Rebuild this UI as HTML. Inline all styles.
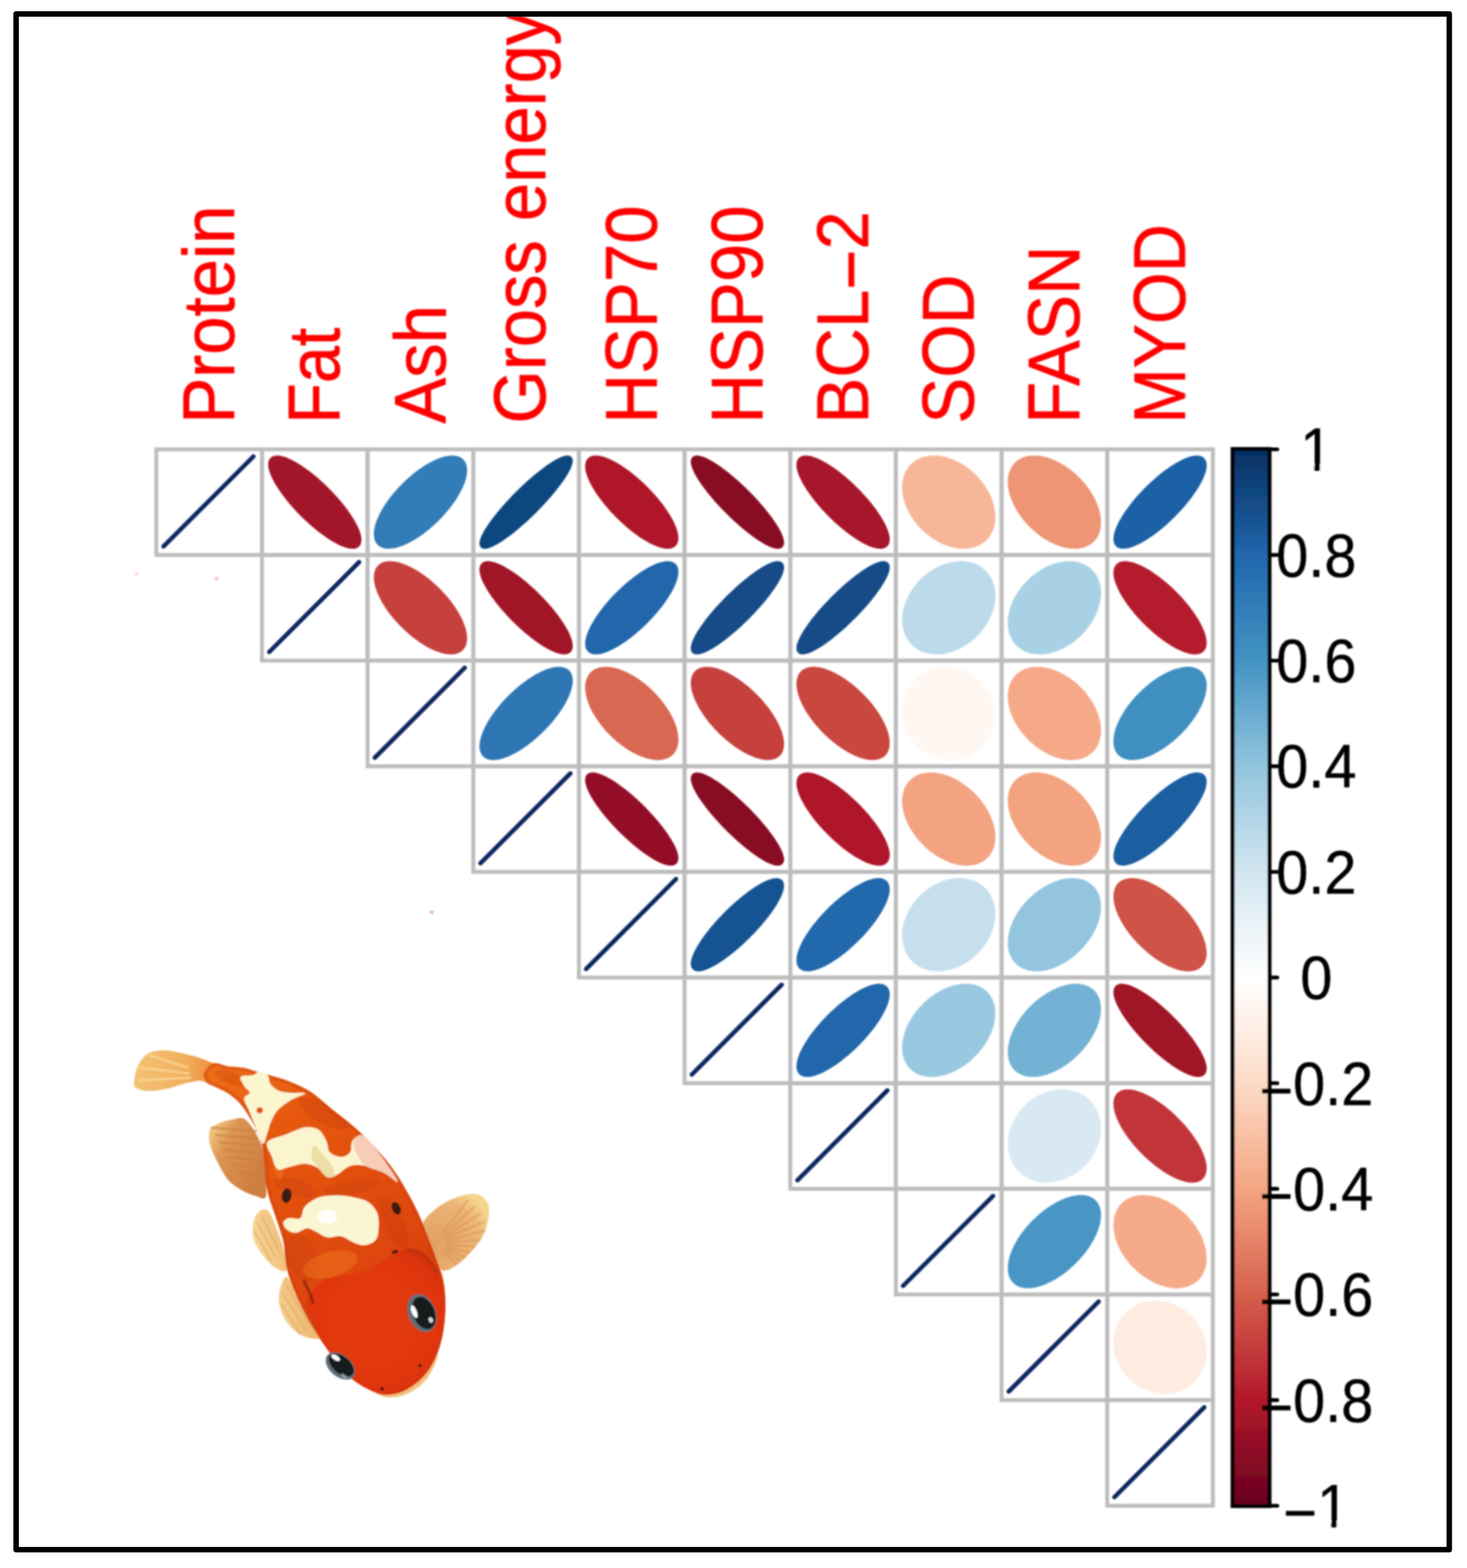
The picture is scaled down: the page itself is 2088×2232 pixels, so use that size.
<!DOCTYPE html>
<html lang="en"><head><meta charset="utf-8"><title>Correlation plot</title>
<style>html,body{margin:0;padding:0;background:#fff;}body{width:2088px;height:2232px;overflow:hidden;}svg{display:block;}text{font-family:"Liberation Sans",sans-serif;}</style>
</head><body>
<svg width="2088" height="2232" viewBox="0 0 2088 2232" role="img" aria-label="Correlation matrix plot with koi fish">
<defs>
<linearGradient id="cb" x1="0" y1="0" x2="0" y2="1"><stop offset="0" stop-color="#053061"/><stop offset="0.1" stop-color="#2166AC"/><stop offset="0.2" stop-color="#4393C3"/><stop offset="0.3" stop-color="#92C5DE"/><stop offset="0.4" stop-color="#D1E5F0"/><stop offset="0.5" stop-color="#FFFFFF"/><stop offset="0.6" stop-color="#FDDBC7"/><stop offset="0.7" stop-color="#F4A582"/><stop offset="0.8" stop-color="#D6604D"/><stop offset="0.9" stop-color="#B2182B"/><stop offset="1" stop-color="#67001F"/></linearGradient>
<clipPath id="inner"><rect x="27" y="23.8" width="2032" height="2178.3"/></clipPath>
<filter id="soft" x="-2%" y="-2%" width="104%" height="104%"><feGaussianBlur stdDeviation="1.1"/></filter>
<linearGradient id="gTail" gradientUnits="userSpaceOnUse" x1="195" y1="1530" x2="325" y2="1530"><stop offset="0" stop-color="#F4C272"/><stop offset="0.55" stop-color="#F0AE5C"/><stop offset="0.85" stop-color="#EE8A38"/><stop offset="1" stop-color="#EB6A1C"/></linearGradient>
<linearGradient id="gFinUL" gradientUnits="userSpaceOnUse" x1="298" y1="1620" x2="375" y2="1660"><stop offset="0" stop-color="#EFC07A"/><stop offset="0.3" stop-color="#DC9452"/><stop offset="1" stop-color="#CF7E40"/></linearGradient>
<radialGradient id="gFinR" gradientUnits="userSpaceOnUse" cx="618" cy="1770" r="85"><stop offset="0" stop-color="#E0A060"/><stop offset="0.75" stop-color="#EDB577"/><stop offset="1" stop-color="#F5D48C"/></radialGradient>
<linearGradient id="gFinL" gradientUnits="userSpaceOnUse" x1="355" y1="1800" x2="440" y2="1780"><stop offset="0" stop-color="#F8DC9C"/><stop offset="1" stop-color="#EDAE66"/></linearGradient>
<linearGradient id="gBody" gradientUnits="userSpaceOnUse" x1="300" y1="1530" x2="560" y2="1900"><stop offset="0" stop-color="#EE6E18"/><stop offset="0.25" stop-color="#E6580F"/><stop offset="0.7" stop-color="#DF490C"/><stop offset="1" stop-color="#DC3A0A"/></linearGradient>
<radialGradient id="gHead" gradientUnits="userSpaceOnUse" cx="530" cy="1880" r="130"><stop offset="0" stop-color="#E43A0A"/><stop offset="0.7" stop-color="#E0360A"/><stop offset="1" stop-color="#D2300A"/></radialGradient>
<clipPath id="cBody"><path d="M290.3 1527.4C291.9 1522.8 298.4 1515.2 303.9 1513.5C309.4 1511.9 316.0 1516.3 323.2 1517.4C330.5 1518.5 341.2 1518.9 347.4 1520.0C353.6 1521.1 354.4 1522.2 360.3 1523.9C366.2 1525.6 374.3 1527.7 382.9 1530.3C391.5 1532.9 402.0 1535.3 411.9 1539.4C421.9 1543.4 432.5 1547.9 442.6 1554.5C452.7 1561.1 462.2 1570.6 472.6 1579.0C483.0 1587.4 494.1 1595.2 504.8 1604.8C515.6 1614.5 527.4 1626.3 537.1 1637.1C546.8 1647.8 555.4 1658.6 562.9 1669.4C570.4 1680.1 576.3 1690.9 582.3 1701.6C588.2 1712.4 593.5 1723.1 598.4 1733.9C603.2 1744.6 607.5 1756.5 611.3 1766.1C615.1 1775.8 617.7 1782.8 621.0 1791.9C624.2 1801.1 628.5 1810.8 630.6 1821.0C632.8 1831.2 633.6 1842.5 633.9 1853.2C634.1 1864.0 633.3 1875.8 632.3 1885.5C631.2 1895.2 629.6 1903.2 627.4 1911.3C625.3 1919.4 622.6 1926.9 619.4 1933.9C616.1 1940.9 612.6 1947.3 608.1 1953.2C603.5 1959.1 598.4 1964.5 591.9 1969.4C585.5 1974.2 576.9 1979.6 569.4 1982.3C561.8 1984.9 553.8 1986.0 546.8 1985.5C539.8 1984.9 534.4 1982.3 527.4 1979.0C520.4 1975.8 511.8 1971.5 504.8 1966.1C497.8 1960.8 491.9 1954.3 485.5 1946.8C479.0 1939.2 472.6 1930.1 466.1 1921.0C459.7 1911.8 452.7 1901.6 446.8 1891.9C440.9 1882.3 435.5 1872.6 430.6 1862.9C425.8 1853.2 421.5 1843.5 417.7 1833.9C414.0 1824.2 410.4 1815.5 408.1 1804.8C405.8 1794.2 405.4 1778.8 403.9 1770.0C402.4 1761.2 401.2 1759.2 399.0 1752.3C396.9 1745.3 393.7 1736.1 391.0 1728.1C388.3 1720.0 385.1 1711.9 382.9 1703.9C380.8 1695.8 379.1 1687.7 378.1 1679.7C377.0 1671.6 377.3 1663.5 376.5 1655.5C375.6 1647.4 374.6 1638.0 373.2 1631.3C371.9 1624.6 370.5 1620.5 368.4 1615.2C366.2 1609.8 363.3 1604.4 360.3 1599.0C357.4 1593.7 354.1 1588.0 350.6 1582.9C347.2 1577.8 343.9 1573.0 339.4 1568.4C334.8 1563.8 328.6 1559.0 323.2 1555.5C317.8 1552.0 311.9 1549.8 307.1 1547.4C302.3 1545.0 297.0 1544.3 294.2 1541.0C291.4 1537.6 288.7 1532.0 290.3 1527.4Z"/></clipPath>
<clipPath id="cFinR"><path d="M601.6 1741.9C603.8 1733.9 615.6 1724.2 624.2 1717.7C632.8 1711.3 644.1 1706.2 653.2 1703.2C662.4 1700.3 672.2 1698.4 679.0 1700.0C685.9 1701.6 691.8 1707.3 694.5 1712.9C697.2 1718.5 696.1 1726.6 695.2 1733.9C694.2 1741.1 691.9 1749.5 688.7 1756.5C685.5 1763.4 681.7 1768.8 675.8 1775.8C669.9 1782.8 660.8 1792.9 653.2 1798.4C645.7 1803.9 636.3 1809.8 630.6 1808.7C625.0 1807.6 622.6 1799.0 619.4 1791.9C616.1 1784.8 614.2 1774.5 611.3 1766.1C608.3 1757.8 599.5 1750.0 601.6 1741.9Z"/></clipPath>
</defs>
<rect width="2088" height="2232" fill="#fff"/>
<g filter="url(#soft)">
<g clip-path="url(#inner)" fill="#FF0000" stroke="#FF0000" stroke-width="0.9" stroke-linejoin="round" font-size="100">
<text transform="translate(332.7 603.0) rotate(-90) scale(0.980 1.04)">Protein</text>
<text transform="translate(483.1 603.0) rotate(-90) scale(0.944 1.04)">Fat</text>
<text transform="translate(633.5 603.0) rotate(-90) scale(0.980 1.04)">Ash</text>
<text transform="translate(775.6 603.0) rotate(-90) scale(0.979 1.04)">Gross energy</text>
<text transform="translate(934.2 603.0) rotate(-90) scale(0.980 1.04)">HSP70</text>
<text transform="translate(1084.6 603.0) rotate(-90) scale(0.980 1.04)">HSP90</text>
<text transform="translate(1235.0 603.0) rotate(-90) scale(0.980 1.04)">BCL<tspan dy="10.5">−</tspan><tspan dy="-10.5">2</tspan></text>
<text transform="translate(1385.3 603.0) rotate(-90) scale(0.980 1.04)">SOD</text>
<text transform="translate(1535.7 603.0) rotate(-90) scale(0.970 1.04)">FASN</text>
<text transform="translate(1686.1 603.0) rotate(-90) scale(0.946 1.04)">MYOD</text>
</g>
<g fill="none" stroke="#BDBDBD" stroke-width="5.6">
<rect x="222.50" y="639.60" width="150.38" height="150.38"/>
<rect x="372.88" y="639.60" width="150.38" height="150.38"/>
<rect x="523.26" y="639.60" width="150.38" height="150.38"/>
<rect x="673.64" y="639.60" width="150.38" height="150.38"/>
<rect x="824.02" y="639.60" width="150.38" height="150.38"/>
<rect x="974.40" y="639.60" width="150.38" height="150.38"/>
<rect x="1124.78" y="639.60" width="150.38" height="150.38"/>
<rect x="1275.16" y="639.60" width="150.38" height="150.38"/>
<rect x="1425.54" y="639.60" width="150.38" height="150.38"/>
<rect x="1575.92" y="639.60" width="150.38" height="150.38"/>
<rect x="372.88" y="789.98" width="150.38" height="150.38"/>
<rect x="523.26" y="789.98" width="150.38" height="150.38"/>
<rect x="673.64" y="789.98" width="150.38" height="150.38"/>
<rect x="824.02" y="789.98" width="150.38" height="150.38"/>
<rect x="974.40" y="789.98" width="150.38" height="150.38"/>
<rect x="1124.78" y="789.98" width="150.38" height="150.38"/>
<rect x="1275.16" y="789.98" width="150.38" height="150.38"/>
<rect x="1425.54" y="789.98" width="150.38" height="150.38"/>
<rect x="1575.92" y="789.98" width="150.38" height="150.38"/>
<rect x="523.26" y="940.36" width="150.38" height="150.38"/>
<rect x="673.64" y="940.36" width="150.38" height="150.38"/>
<rect x="824.02" y="940.36" width="150.38" height="150.38"/>
<rect x="974.40" y="940.36" width="150.38" height="150.38"/>
<rect x="1124.78" y="940.36" width="150.38" height="150.38"/>
<rect x="1275.16" y="940.36" width="150.38" height="150.38"/>
<rect x="1425.54" y="940.36" width="150.38" height="150.38"/>
<rect x="1575.92" y="940.36" width="150.38" height="150.38"/>
<rect x="673.64" y="1090.74" width="150.38" height="150.38"/>
<rect x="824.02" y="1090.74" width="150.38" height="150.38"/>
<rect x="974.40" y="1090.74" width="150.38" height="150.38"/>
<rect x="1124.78" y="1090.74" width="150.38" height="150.38"/>
<rect x="1275.16" y="1090.74" width="150.38" height="150.38"/>
<rect x="1425.54" y="1090.74" width="150.38" height="150.38"/>
<rect x="1575.92" y="1090.74" width="150.38" height="150.38"/>
<rect x="824.02" y="1241.12" width="150.38" height="150.38"/>
<rect x="974.40" y="1241.12" width="150.38" height="150.38"/>
<rect x="1124.78" y="1241.12" width="150.38" height="150.38"/>
<rect x="1275.16" y="1241.12" width="150.38" height="150.38"/>
<rect x="1425.54" y="1241.12" width="150.38" height="150.38"/>
<rect x="1575.92" y="1241.12" width="150.38" height="150.38"/>
<rect x="974.40" y="1391.50" width="150.38" height="150.38"/>
<rect x="1124.78" y="1391.50" width="150.38" height="150.38"/>
<rect x="1275.16" y="1391.50" width="150.38" height="150.38"/>
<rect x="1425.54" y="1391.50" width="150.38" height="150.38"/>
<rect x="1575.92" y="1391.50" width="150.38" height="150.38"/>
<rect x="1124.78" y="1541.88" width="150.38" height="150.38"/>
<rect x="1275.16" y="1541.88" width="150.38" height="150.38"/>
<rect x="1425.54" y="1541.88" width="150.38" height="150.38"/>
<rect x="1575.92" y="1541.88" width="150.38" height="150.38"/>
<rect x="1275.16" y="1692.26" width="150.38" height="150.38"/>
<rect x="1425.54" y="1692.26" width="150.38" height="150.38"/>
<rect x="1575.92" y="1692.26" width="150.38" height="150.38"/>
<rect x="1425.54" y="1842.64" width="150.38" height="150.38"/>
<rect x="1575.92" y="1842.64" width="150.38" height="150.38"/>
<rect x="1575.92" y="1993.02" width="150.38" height="150.38"/>
</g>
<g stroke-width="5.0" stroke-linejoin="round" stroke-linecap="round">
<path d="M232.8 777.7L360.6 649.9" stroke="#0B2560" stroke-width="6.2" fill="none"/>
<path d="M466.1 696.7L460.7 691.4L455.2 686.3L449.7 681.5L444.1 676.8L438.5 672.5L433.1 668.5L427.7 664.8L422.5 661.5L417.5 658.7L412.7 656.2L408.2 654.2L404.0 652.7L400.2 651.6L396.6 651.0L393.5 650.9L390.8 651.3L388.6 652.1L386.8 653.5L385.4 655.3L384.6 657.6L384.2 660.3L384.3 663.4L384.9 666.9L385.9 670.7L387.5 674.9L389.5 679.4L391.9 684.2L394.8 689.2L398.1 694.4L401.8 699.8L405.8 705.3L410.1 710.8L414.7 716.4L419.6 721.9L424.7 727.5L430.0 732.9L435.4 738.1L440.9 743.2L446.5 748.1L452.0 752.7L457.6 757.1L463.1 761.1L468.4 764.8L473.6 768.0L478.6 770.9L483.4 773.4L487.9 775.4L492.1 776.9L496.0 778.0L499.5 778.6L502.6 778.7L505.3 778.3L507.6 777.4L509.4 776.1L510.7 774.3L511.6 772.0L512.0 769.3L511.9 766.2L511.3 762.7L510.2 758.8L508.7 754.6L506.6 750.1L504.2 745.4L501.3 740.3L498.0 735.1L494.4 729.8L490.4 724.3L486.0 718.8L481.4 713.2L476.5 707.6L471.4 702.1Z" fill="#A31329" stroke="#A31329"/>
<path d="M657.5 655.7L655.2 653.8L652.4 652.4L649.2 651.4L645.7 650.9L641.7 650.9L637.5 651.4L632.9 652.4L628.1 653.9L623.0 655.8L617.8 658.2L612.4 661.0L606.9 664.2L601.4 667.8L595.8 671.7L590.2 676.0L584.7 680.6L579.4 685.4L574.1 690.5L569.1 695.7L564.2 701.1L559.6 706.6L555.4 712.1L551.4 717.7L547.8 723.3L544.6 728.8L541.8 734.1L539.5 739.4L537.5 744.4L536.1 749.2L535.1 753.8L534.6 758.1L534.6 762.0L535.1 765.6L536.0 768.8L537.5 771.5L539.4 773.9L541.7 775.8L544.5 777.2L547.7 778.2L551.2 778.6L555.2 778.6L559.4 778.1L564.0 777.2L568.8 775.7L573.9 773.8L579.1 771.4L584.5 768.6L590.0 765.4L595.5 761.8L601.1 757.9L606.7 753.6L612.2 749.0L617.5 744.2L622.8 739.1L627.8 733.9L632.7 728.5L637.3 723.0L641.5 717.4L645.5 711.9L649.1 706.3L652.3 700.8L655.1 695.4L657.4 690.2L659.4 685.2L660.8 680.3L661.8 675.8L662.3 671.5L662.3 667.6L661.8 664.0L660.9 660.8L659.4 658.0Z" fill="#317BB7" stroke="#317BB7"/>
<path d="M811.5 652.2L810.1 651.3L808.3 650.9L806.0 651.0L803.3 651.6L800.2 652.6L796.7 654.2L792.8 656.2L788.6 658.6L784.1 661.5L779.3 664.7L774.3 668.4L769.1 672.4L763.7 676.7L758.2 681.4L752.7 686.2L747.1 691.3L741.6 696.6L736.0 702.0L730.6 707.5L725.4 713.1L720.3 718.7L715.4 724.2L710.8 729.7L706.5 735.0L702.4 740.2L698.8 745.2L695.5 750.0L692.6 754.5L690.2 758.8L688.2 762.6L686.7 766.1L685.6 769.3L685.0 772.0L684.9 774.2L685.3 776.1L686.2 777.4L687.6 778.3L689.4 778.7L691.7 778.6L694.4 778.0L697.5 776.9L701.0 775.4L704.9 773.4L709.1 771.0L713.6 768.1L718.4 764.8L723.4 761.2L728.6 757.2L734.0 752.8L739.4 748.2L745.0 743.3L750.5 738.3L756.1 733.0L761.6 727.6L767.0 722.1L772.3 716.5L777.4 710.9L782.3 705.4L786.9 699.9L791.2 694.5L795.2 689.3L798.9 684.3L802.1 679.5L805.0 675.0L807.5 670.8L809.5 667.0L811.0 663.4L812.0 660.3L812.6 657.6L812.7 655.3L812.3 653.5Z" fill="#10467F" stroke="#10467F"/>
<path d="M919.4 694.6L914.1 689.4L908.6 684.4L903.0 679.6L897.5 675.1L891.9 670.8L886.4 667.0L881.0 663.5L875.7 660.3L870.6 657.6L865.8 655.4L861.1 653.5L856.8 652.2L852.8 651.3L849.1 650.9L845.9 651.0L843.0 651.6L840.6 652.6L838.6 654.2L837.0 656.2L836.0 658.6L835.4 661.5L835.3 664.7L835.7 668.4L836.6 672.4L838.0 676.7L839.8 681.3L842.0 686.2L844.8 691.3L847.9 696.6L851.4 702.0L855.3 707.5L859.5 713.0L864.0 718.6L868.8 724.2L873.8 729.6L879.0 735.0L884.4 740.2L889.8 745.2L895.4 750.0L901.0 754.5L906.5 758.7L912.0 762.6L917.4 766.1L922.7 769.2L927.8 772.0L932.7 774.2L937.3 776.0L941.6 777.4L945.6 778.3L949.3 778.7L952.5 778.6L955.4 778.0L957.8 777.0L959.8 775.4L961.4 773.4L962.4 771.0L963.0 768.1L963.1 764.9L962.7 761.2L961.8 757.2L960.5 752.9L958.6 748.2L956.4 743.4L953.7 738.3L950.5 733.0L947.0 727.6L943.2 722.1L938.9 716.5L934.4 711.0L929.6 705.4L924.6 699.9Z" fill="#AF172A" stroke="#AF172A"/>
<path d="M1063.9 700.5L1058.4 695.1L1052.8 689.9L1047.3 684.9L1041.7 680.1L1036.2 675.5L1030.8 671.3L1025.6 667.4L1020.5 663.8L1015.6 660.6L1011.1 657.9L1006.8 655.6L1002.8 653.7L999.2 652.3L995.9 651.4L993.1 650.9L990.7 651.0L988.8 651.5L987.3 652.5L986.3 654.0L985.8 655.9L985.7 658.3L986.2 661.1L987.1 664.4L988.5 668.0L990.4 672.0L992.7 676.3L995.4 680.8L998.6 685.7L1002.2 690.8L1006.1 696.0L1010.3 701.4L1014.9 706.9L1019.7 712.5L1024.7 718.0L1029.9 723.6L1035.3 729.1L1040.8 734.5L1046.3 739.7L1051.9 744.7L1057.5 749.5L1063.0 754.1L1068.4 758.3L1073.6 762.2L1078.7 765.8L1083.5 768.9L1088.1 771.7L1092.4 774.0L1096.4 775.9L1100.0 777.3L1103.2 778.2L1106.1 778.7L1108.5 778.6L1110.4 778.1L1111.9 777.1L1112.9 775.6L1113.4 773.7L1113.5 771.3L1113.0 768.4L1112.1 765.2L1110.7 761.6L1108.8 757.6L1106.5 753.3L1103.7 748.7L1100.6 743.9L1097.0 738.8L1093.1 733.6L1088.9 728.2L1084.3 722.7L1079.5 717.1L1074.5 711.5L1069.3 706.0Z" fill="#890B24" stroke="#890B24"/>
<path d="M1218.6 696.2L1213.2 690.9L1207.7 685.8L1202.1 681.0L1196.6 676.4L1191.0 672.1L1185.5 668.1L1180.2 664.5L1174.9 661.2L1169.9 658.4L1165.1 656.0L1160.6 654.0L1156.3 652.5L1152.4 651.5L1148.9 651.0L1145.7 650.9L1143.0 651.3L1140.7 652.3L1138.8 653.7L1137.4 655.5L1136.5 657.8L1136.1 660.6L1136.1 663.7L1136.7 667.3L1137.7 671.2L1139.2 675.4L1141.2 679.9L1143.6 684.7L1146.4 689.8L1149.6 695.0L1153.3 700.4L1157.2 705.8L1161.6 711.4L1166.1 717.0L1171.0 722.5L1176.1 728.0L1181.3 733.4L1186.7 738.7L1192.2 743.8L1197.8 748.6L1203.4 753.2L1208.9 757.5L1214.4 761.5L1219.8 765.1L1225.0 768.4L1230.0 771.2L1234.8 773.6L1239.4 775.6L1243.6 777.1L1247.5 778.1L1251.0 778.6L1254.2 778.7L1256.9 778.2L1259.2 777.3L1261.1 775.9L1262.5 774.1L1263.4 771.8L1263.8 769.0L1263.8 765.9L1263.3 762.3L1262.2 758.4L1260.7 754.2L1258.8 749.6L1256.4 744.8L1253.5 739.8L1250.3 734.6L1246.7 729.2L1242.7 723.7L1238.4 718.2L1233.8 712.6L1228.9 707.1L1223.9 701.6Z" fill="#A71529" stroke="#A71529"/>
<path d="M1387.3 677.8L1382.7 673.4L1377.7 669.3L1372.6 665.6L1367.3 662.2L1361.8 659.2L1356.3 656.7L1350.8 654.6L1345.2 653.0L1339.7 651.8L1334.2 651.1L1328.9 650.9L1323.7 651.2L1318.7 651.9L1314.0 653.2L1309.6 654.9L1305.4 657.0L1301.7 659.6L1298.2 662.7L1295.2 666.1L1292.6 669.9L1290.4 674.0L1288.7 678.5L1287.5 683.2L1286.7 688.1L1286.4 693.3L1286.6 698.6L1287.3 704.1L1288.5 709.6L1290.2 715.2L1292.3 720.8L1294.8 726.3L1297.8 731.7L1301.1 737.0L1304.9 742.2L1309.0 747.1L1313.4 751.8L1318.0 756.2L1323.0 760.3L1328.1 764.0L1333.4 767.4L1338.9 770.3L1344.4 772.9L1349.9 775.0L1355.5 776.6L1361.0 777.8L1366.5 778.5L1371.8 778.7L1377.0 778.4L1382.0 777.7L1386.7 776.4L1391.1 774.7L1395.3 772.5L1399.0 769.9L1402.5 766.9L1405.5 763.5L1408.1 759.7L1410.3 755.6L1412.0 751.1L1413.2 746.4L1414.0 741.4L1414.3 736.3L1414.1 730.9L1413.4 725.5L1412.2 720.0L1410.5 714.4L1408.4 708.8L1405.9 703.3L1402.9 697.9L1399.6 692.5L1395.8 687.4L1391.7 682.5Z" fill="#F7B698" stroke="#F7B698"/>
<path d="M1534.2 681.3L1529.4 676.7L1524.3 672.3L1519.0 668.3L1513.6 664.7L1508.1 661.4L1502.5 658.6L1497.0 656.1L1491.4 654.1L1485.9 652.6L1480.6 651.6L1475.4 651.0L1470.4 650.9L1465.6 651.3L1461.1 652.2L1456.8 653.6L1453.0 655.4L1449.4 657.7L1446.3 660.4L1443.6 663.5L1441.3 667.0L1439.5 670.9L1438.1 675.1L1437.2 679.6L1436.8 684.4L1436.9 689.4L1437.5 694.6L1438.6 700.0L1440.1 705.5L1442.1 711.0L1444.5 716.6L1447.4 722.2L1450.6 727.7L1454.3 733.1L1458.3 738.3L1462.6 743.4L1467.2 748.3L1472.1 752.9L1477.2 757.2L1482.4 761.2L1487.8 764.9L1493.4 768.2L1498.9 771.0L1504.5 773.5L1510.0 775.4L1515.5 777.0L1520.9 778.0L1526.1 778.6L1531.1 778.7L1535.9 778.3L1540.4 777.4L1544.6 776.0L1548.5 774.2L1552.0 771.9L1555.1 769.2L1557.9 766.1L1560.1 762.6L1562.0 758.7L1563.3 754.5L1564.2 749.9L1564.6 745.2L1564.5 740.1L1564.0 734.9L1562.9 729.6L1561.4 724.1L1559.4 718.5L1557.0 713.0L1554.1 707.4L1550.8 701.9L1547.2 696.5L1543.2 691.2L1538.9 686.1Z" fill="#ED9575" stroke="#ED9575"/>
<path d="M1712.1 653.8L1710.2 652.4L1707.8 651.4L1705.0 650.9L1701.8 650.9L1698.3 651.4L1694.3 652.4L1690.1 653.9L1685.5 655.8L1680.7 658.1L1675.6 660.9L1670.4 664.1L1665.0 667.7L1659.5 671.6L1653.9 675.9L1648.4 680.5L1642.8 685.3L1637.3 690.4L1631.9 695.6L1626.7 701.0L1621.6 706.5L1616.8 712.0L1612.2 717.6L1608.0 723.2L1604.0 728.7L1600.4 734.1L1597.2 739.3L1594.4 744.3L1592.1 749.2L1590.2 753.7L1588.7 758.0L1587.8 761.9L1587.3 765.5L1587.3 768.7L1587.7 771.5L1588.7 773.9L1590.1 775.8L1592.0 777.2L1594.4 778.2L1597.2 778.6L1600.4 778.6L1604.0 778.1L1607.9 777.2L1612.2 775.7L1616.7 773.8L1621.6 771.5L1626.6 768.7L1631.8 765.5L1637.2 761.9L1642.7 757.9L1648.3 753.7L1653.9 749.1L1659.4 744.3L1664.9 739.2L1670.3 734.0L1675.5 728.6L1680.6 723.1L1685.4 717.5L1690.0 712.0L1694.3 706.4L1698.2 700.9L1701.8 695.5L1705.0 690.3L1707.8 685.2L1710.1 680.4L1712.0 675.8L1713.5 671.6L1714.5 667.6L1715.0 664.1L1715.0 660.9L1714.5 658.1L1713.5 655.7Z" fill="#1E61A5" stroke="#1E61A5"/>
<path d="M383.2 928.1L511.0 800.3" stroke="#0B2560" stroke-width="6.2" fill="none"/>
<path d="M624.0 839.6L618.8 834.6L613.5 829.8L608.0 825.3L602.4 821.1L596.9 817.2L591.3 813.7L585.8 810.6L580.4 807.9L575.1 805.7L570.0 803.9L565.1 802.5L560.5 801.7L556.2 801.3L552.2 801.4L548.5 802.0L545.2 803.0L542.3 804.6L539.9 806.6L537.9 809.0L536.3 811.9L535.3 815.2L534.7 818.9L534.6 822.9L534.9 827.2L535.8 831.9L537.1 836.7L539.0 841.8L541.2 847.1L543.9 852.5L547.0 858.0L550.5 863.6L554.4 869.2L558.6 874.7L563.1 880.2L567.9 885.5L572.9 890.7L578.1 895.7L583.4 900.5L588.9 905.0L594.5 909.2L600.0 913.1L605.6 916.6L611.1 919.7L616.5 922.4L621.8 924.7L626.9 926.5L631.8 927.8L636.4 928.7L640.7 929.1L644.7 929.0L648.4 928.4L651.7 927.3L654.6 925.8L657.0 923.7L659.0 921.3L660.6 918.4L661.6 915.1L662.2 911.5L662.3 907.5L662.0 903.1L661.1 898.5L659.8 893.6L657.9 888.5L655.7 883.2L653.0 877.8L649.9 872.3L646.4 866.8L642.5 861.2L638.3 855.6L633.8 850.2L629.0 844.8Z" fill="#C6403E" stroke="#C6403E"/>
<path d="M766.3 847.7L760.9 842.4L755.4 837.3L749.8 832.4L744.3 827.7L738.7 823.3L733.3 819.3L727.9 815.6L722.7 812.3L717.7 809.3L713.0 806.8L708.5 804.8L704.3 803.2L700.5 802.1L697.1 801.4L694.0 801.3L691.3 801.6L689.1 802.4L687.4 803.7L686.1 805.5L685.3 807.7L684.9 810.3L685.1 813.4L685.7 816.9L686.8 820.7L688.4 824.9L690.5 829.3L693.0 834.1L695.9 839.1L699.2 844.3L702.9 849.6L707.0 855.1L711.4 860.6L716.0 866.2L720.9 871.7L726.0 877.2L731.3 882.7L736.8 888.0L742.3 893.1L747.8 898.0L753.4 902.6L758.9 907.0L764.4 911.1L769.7 914.8L774.9 918.1L779.9 921.0L784.7 923.5L789.1 925.6L793.3 927.2L797.1 928.3L800.6 928.9L803.7 929.1L806.3 928.7L808.5 927.9L810.3 926.6L811.6 924.9L812.4 922.7L812.7 920.0L812.6 916.9L811.9 913.5L810.8 909.7L809.2 905.5L807.2 901.0L804.7 896.3L801.7 891.3L798.4 886.1L794.7 880.7L790.7 875.3L786.3 869.7L781.6 864.2L776.7 858.6L771.6 853.1Z" fill="#A01228" stroke="#A01228"/>
<path d="M959.8 804.5L957.8 803.0L955.4 801.9L952.5 801.4L949.3 801.3L945.6 801.7L941.6 802.6L937.3 803.9L932.7 805.7L927.8 808.0L922.7 810.7L917.4 813.8L912.0 817.4L906.5 821.2L901.0 825.4L895.4 830.0L889.8 834.7L884.4 839.8L879.0 845.0L873.8 850.3L868.8 855.8L864.0 861.3L859.5 866.9L855.3 872.5L851.4 878.0L847.9 883.4L844.8 888.7L842.0 893.8L839.8 898.6L838.0 903.2L836.6 907.6L835.7 911.6L835.3 915.2L835.4 918.5L836.0 921.4L837.0 923.8L838.6 925.8L840.6 927.3L843.0 928.4L845.9 929.0L849.1 929.1L852.8 928.7L856.8 927.8L861.1 926.4L865.8 924.6L870.6 922.3L875.7 919.6L881.0 916.5L886.4 913.0L891.9 909.1L897.5 904.9L903.0 900.4L908.6 895.6L914.1 890.6L919.4 885.4L924.6 880.0L929.6 874.5L934.4 869.0L938.9 863.4L943.2 857.9L947.0 852.4L950.5 846.9L953.7 841.7L956.4 836.6L958.6 831.7L960.5 827.1L961.8 822.8L962.7 818.8L963.1 815.1L963.0 811.8L962.4 809.0L961.4 806.5Z" fill="#2166AC" stroke="#2166AC"/>
<path d="M1111.9 802.9L1110.4 801.9L1108.5 801.3L1106.1 801.3L1103.2 801.7L1100.0 802.7L1096.4 804.1L1092.4 805.9L1088.1 808.3L1083.5 811.0L1078.7 814.2L1073.6 817.7L1068.4 821.6L1063.0 825.9L1057.5 830.4L1051.9 835.2L1046.3 840.3L1040.8 845.5L1035.3 850.9L1029.9 856.4L1024.7 861.9L1019.7 867.5L1014.9 873.0L1010.3 878.5L1006.1 883.9L1002.2 889.2L998.6 894.3L995.4 899.1L992.7 903.7L990.4 908.0L988.5 912.0L987.1 915.6L986.2 918.8L985.7 921.6L985.8 924.0L986.3 926.0L987.3 927.5L988.8 928.5L990.7 929.0L993.1 929.0L995.9 928.6L999.2 927.7L1002.8 926.3L1006.8 924.4L1011.1 922.1L1015.6 919.3L1020.5 916.2L1025.6 912.6L1030.8 908.7L1036.2 904.4L1041.7 899.9L1047.3 895.1L1052.8 890.1L1058.4 884.8L1063.9 879.5L1069.3 874.0L1074.5 868.4L1079.5 862.9L1084.3 857.3L1088.9 851.8L1093.1 846.4L1097.0 841.1L1100.6 836.1L1103.7 831.2L1106.5 826.6L1108.8 822.3L1110.7 818.4L1112.1 814.8L1113.0 811.5L1113.5 808.7L1113.4 806.3L1112.9 804.4Z" fill="#134B87" stroke="#134B87"/>
<path d="M1262.3 802.9L1260.8 801.9L1258.8 801.3L1256.4 801.3L1253.6 801.7L1250.4 802.7L1246.8 804.1L1242.8 805.9L1238.5 808.3L1233.9 811.0L1229.1 814.2L1224.0 817.7L1218.7 821.6L1213.3 825.9L1207.8 830.4L1202.3 835.2L1196.7 840.3L1191.2 845.5L1185.7 850.9L1180.3 856.4L1175.1 861.9L1170.0 867.5L1165.2 873.0L1160.7 878.5L1156.4 883.9L1152.5 889.2L1149.0 894.3L1145.8 899.1L1143.1 903.7L1140.7 908.0L1138.9 912.0L1137.5 915.6L1136.5 918.8L1136.1 921.6L1136.1 924.0L1136.7 926.0L1137.7 927.5L1139.2 928.5L1141.1 929.0L1143.5 929.0L1146.3 928.6L1149.6 927.7L1153.2 926.3L1157.1 924.4L1161.4 922.1L1166.0 919.3L1170.9 916.2L1175.9 912.6L1181.2 908.7L1186.6 904.4L1192.1 899.9L1197.7 895.1L1203.2 890.1L1208.8 884.8L1214.3 879.5L1219.6 874.0L1224.9 868.4L1229.9 862.9L1234.7 857.3L1239.2 851.8L1243.5 846.4L1247.4 841.1L1251.0 836.1L1254.1 831.2L1256.9 826.6L1259.2 822.3L1261.1 818.4L1262.5 814.8L1263.4 811.5L1263.8 808.7L1263.8 806.3L1263.3 804.4Z" fill="#134B87" stroke="#134B87"/>
<path d="M1401.3 814.2L1397.7 811.1L1393.8 808.3L1389.6 806.0L1385.0 804.1L1380.2 802.7L1375.1 801.8L1369.9 801.3L1364.5 801.3L1359.1 801.9L1353.5 802.9L1347.9 804.3L1342.4 806.3L1336.9 808.7L1331.5 811.5L1326.2 814.7L1321.2 818.3L1316.3 822.3L1311.7 826.6L1307.4 831.1L1303.5 836.0L1299.9 841.1L1296.6 846.3L1293.8 851.7L1291.4 857.2L1289.5 862.8L1288.0 868.3L1287.0 873.9L1286.5 879.4L1286.5 884.7L1286.9 890.0L1287.9 895.0L1289.3 899.8L1291.2 904.4L1293.5 908.6L1296.2 912.5L1299.4 916.1L1303.0 919.3L1306.9 922.0L1311.1 924.4L1315.7 926.2L1320.5 927.6L1325.6 928.6L1330.8 929.0L1336.2 929.0L1341.6 928.5L1347.2 927.5L1352.8 926.0L1358.3 924.1L1363.8 921.7L1369.2 918.9L1374.5 915.6L1379.5 912.0L1384.4 908.1L1389.0 903.8L1393.3 899.2L1397.2 894.4L1400.8 889.3L1404.1 884.0L1406.9 878.6L1409.3 873.1L1411.2 867.6L1412.7 862.0L1413.7 856.5L1414.2 851.0L1414.2 845.6L1413.8 840.4L1412.8 835.3L1411.4 830.5L1409.5 826.0L1407.2 821.7L1404.5 817.8Z" fill="#BCDAEA" stroke="#BCDAEA"/>
<path d="M1552.8 813.1L1549.4 810.0L1545.6 807.4L1541.5 805.3L1537.1 803.5L1532.3 802.3L1527.4 801.5L1522.2 801.3L1516.9 801.5L1511.4 802.2L1505.9 803.3L1500.3 805.0L1494.8 807.1L1489.2 809.6L1483.8 812.6L1478.5 815.9L1473.4 819.7L1468.4 823.8L1463.7 828.2L1459.3 832.9L1455.3 837.8L1451.5 842.9L1448.1 848.2L1445.2 853.7L1442.6 859.2L1440.5 864.8L1438.9 870.3L1437.7 875.9L1437.0 881.3L1436.8 886.6L1437.1 891.8L1437.9 896.8L1439.1 901.5L1440.8 905.9L1443.0 910.1L1445.6 913.9L1448.6 917.3L1452.0 920.3L1455.8 922.9L1460.0 925.1L1464.4 926.8L1469.1 928.0L1474.1 928.8L1479.3 929.1L1484.6 928.9L1490.0 928.2L1495.6 927.0L1501.1 925.4L1506.7 923.3L1512.2 920.7L1517.7 917.8L1523.0 914.4L1528.1 910.6L1533.0 906.6L1537.7 902.2L1542.1 897.5L1546.2 892.5L1550.0 887.4L1553.3 882.1L1556.3 876.7L1558.8 871.1L1560.9 865.6L1562.6 860.0L1563.7 854.5L1564.4 849.0L1564.6 843.7L1564.4 838.5L1563.6 833.6L1562.4 828.8L1560.6 824.4L1558.5 820.3L1555.9 816.5Z" fill="#A9D1E5" stroke="#A9D1E5"/>
<path d="M1672.3 844.0L1667.0 838.8L1661.5 833.8L1656.0 829.1L1650.4 824.6L1644.8 820.5L1639.3 816.7L1633.9 813.2L1628.6 810.2L1623.5 807.5L1618.5 805.4L1613.9 803.6L1609.5 802.4L1605.4 801.6L1601.7 801.3L1598.4 801.4L1595.4 802.1L1592.9 803.3L1590.8 804.9L1589.2 807.0L1588.1 809.5L1587.4 812.4L1587.2 815.8L1587.5 819.5L1588.3 823.6L1589.6 827.9L1591.3 832.6L1593.5 837.5L1596.1 842.7L1599.2 848.0L1602.6 853.4L1606.4 858.9L1610.6 864.5L1615.0 870.0L1619.8 875.6L1624.7 881.0L1629.9 886.4L1635.2 891.5L1640.7 896.5L1646.2 901.3L1651.8 905.7L1657.4 909.9L1662.9 913.7L1668.3 917.1L1673.6 920.2L1678.8 922.8L1683.7 925.0L1688.3 926.7L1692.7 928.0L1696.8 928.8L1700.5 929.1L1703.9 928.9L1706.8 928.2L1709.3 927.1L1711.4 925.5L1713.0 923.4L1714.2 920.9L1714.8 917.9L1715.0 914.6L1714.7 910.9L1713.9 906.8L1712.7 902.4L1710.9 897.7L1708.7 892.8L1706.1 887.7L1703.1 882.4L1699.6 877.0L1695.8 871.4L1691.7 865.9L1687.2 860.3L1682.5 854.8L1677.5 849.3Z" fill="#B41C2D" stroke="#B41C2D"/>
<path d="M533.5 1078.5L661.4 950.6" stroke="#0B2560" stroke-width="6.2" fill="none"/>
<path d="M808.3 956.1L806.0 954.3L803.3 952.9L800.2 952.1L796.7 951.7L792.8 951.8L788.6 952.3L784.1 953.4L779.3 954.9L774.3 956.9L769.0 959.4L763.7 962.2L758.2 965.5L752.7 969.1L747.1 973.2L741.5 977.5L736.0 982.1L730.6 987.0L725.3 992.1L720.3 997.3L715.4 1002.7L710.8 1008.3L706.4 1013.8L702.4 1019.4L698.8 1024.9L695.5 1030.4L692.6 1035.8L690.2 1041.0L688.2 1046.0L686.7 1050.8L685.6 1055.3L685.0 1059.5L684.9 1063.4L685.3 1066.9L686.2 1070.0L687.6 1072.7L689.4 1075.0L691.7 1076.8L694.4 1078.2L697.5 1079.0L701.0 1079.4L704.9 1079.3L709.1 1078.8L713.6 1077.7L718.4 1076.2L723.4 1074.2L728.6 1071.7L734.0 1068.9L739.4 1065.6L745.0 1062.0L750.6 1057.9L756.1 1053.6L761.6 1049.0L767.0 1044.1L772.3 1039.0L777.4 1033.8L782.3 1028.4L786.9 1022.8L791.2 1017.3L795.2 1011.7L798.9 1006.2L802.2 1000.7L805.0 995.3L807.5 990.1L809.5 985.1L811.0 980.3L812.0 975.8L812.6 971.6L812.7 967.7L812.3 964.2L811.4 961.1L810.1 958.4Z" fill="#2D76B4" stroke="#2D76B4"/>
<path d="M928.5 986.3L923.4 981.4L918.2 976.8L912.8 972.6L907.3 968.6L901.7 965.0L896.2 961.8L890.6 959.0L885.1 956.6L879.8 954.7L874.5 953.2L869.5 952.2L864.7 951.7L860.1 951.7L855.8 952.2L851.9 953.1L848.4 954.5L845.2 956.4L842.4 958.7L840.1 961.5L838.2 964.7L836.8 968.3L835.8 972.2L835.3 976.4L835.4 981.0L835.9 985.8L836.9 990.9L838.3 996.1L840.3 1001.5L842.6 1007.0L845.4 1012.5L848.7 1018.1L852.3 1023.6L856.2 1029.1L860.5 1034.5L865.1 1039.8L869.9 1044.8L875.0 1049.7L880.2 1054.3L885.6 1058.5L891.1 1062.5L896.7 1066.1L902.2 1069.3L907.8 1072.1L913.3 1074.5L918.7 1076.4L923.9 1077.9L928.9 1078.9L933.8 1079.4L938.3 1079.4L942.6 1078.9L946.5 1078.0L950.1 1076.6L953.2 1074.7L956.0 1072.4L958.4 1069.6L960.2 1066.4L961.7 1062.8L962.6 1058.9L963.1 1054.7L963.0 1050.1L962.5 1045.3L961.6 1040.2L960.1 1035.0L958.2 1029.6L955.8 1024.1L953.0 1018.6L949.8 1013.0L946.2 1007.5L942.2 1002.0L937.9 996.6L933.3 991.3Z" fill="#D96853" stroke="#D96853"/>
<path d="M1075.2 990.0L1070.0 985.0L1064.6 980.2L1059.1 975.7L1053.6 971.5L1048.0 967.6L1042.4 964.1L1036.9 961.0L1031.5 958.3L1026.2 956.1L1021.2 954.2L1016.3 952.9L1011.6 952.0L1007.3 951.7L1003.3 951.8L999.6 952.4L996.3 953.4L993.5 955.0L991.0 957.0L989.0 959.4L987.5 962.3L986.4 965.6L985.8 969.3L985.7 973.3L986.1 977.6L986.9 982.2L988.3 987.1L990.1 992.2L992.4 997.5L995.1 1002.9L998.2 1008.4L1001.7 1014.0L1005.5 1019.5L1009.7 1025.1L1014.2 1030.6L1019.0 1035.9L1024.0 1041.1L1029.2 1046.1L1034.6 1050.9L1040.1 1055.4L1045.6 1059.6L1051.2 1063.5L1056.7 1067.0L1062.2 1070.1L1067.7 1072.8L1072.9 1075.0L1078.0 1076.9L1082.9 1078.2L1087.5 1079.1L1091.9 1079.4L1095.9 1079.3L1099.6 1078.7L1102.8 1077.7L1105.7 1076.1L1108.2 1074.1L1110.2 1071.7L1111.7 1068.8L1112.8 1065.5L1113.4 1061.8L1113.5 1057.8L1113.1 1053.5L1112.2 1048.9L1110.9 1044.0L1109.1 1038.9L1106.8 1033.6L1104.1 1028.2L1101.0 1022.7L1097.5 1017.1L1093.6 1011.6L1089.4 1006.0L1084.9 1000.5L1080.2 995.2Z" fill="#C6403E" stroke="#C6403E"/>
<path d="M1226.3 989.2L1221.1 984.2L1215.8 979.5L1210.4 975.0L1204.8 970.9L1199.2 967.1L1193.7 963.6L1188.2 960.6L1182.7 957.9L1177.4 955.7L1172.3 954.0L1167.4 952.7L1162.7 951.9L1158.3 951.6L1154.3 951.8L1150.5 952.5L1147.2 953.6L1144.3 955.2L1141.7 957.3L1139.7 959.8L1138.1 962.8L1136.9 966.1L1136.2 969.8L1136.1 973.9L1136.4 978.3L1137.2 983.0L1138.4 987.9L1140.2 993.0L1142.4 998.3L1145.0 1003.7L1148.0 1009.3L1151.5 1014.8L1155.3 1020.4L1159.4 1025.9L1163.9 1031.4L1168.6 1036.7L1173.6 1041.9L1178.8 1046.9L1184.1 1051.6L1189.6 1056.1L1195.1 1060.2L1200.7 1064.0L1206.3 1067.5L1211.8 1070.5L1217.2 1073.2L1222.5 1075.4L1227.6 1077.1L1232.6 1078.4L1237.2 1079.2L1241.6 1079.5L1245.7 1079.3L1249.4 1078.6L1252.7 1077.5L1255.7 1075.9L1258.2 1073.8L1260.3 1071.3L1261.9 1068.3L1263.0 1065.0L1263.7 1061.3L1263.9 1057.2L1263.6 1052.8L1262.8 1048.1L1261.5 1043.2L1259.8 1038.1L1257.6 1032.8L1255.0 1027.4L1251.9 1021.8L1248.5 1016.3L1244.6 1010.7L1240.5 1005.2L1236.0 999.7L1231.3 994.4Z" fill="#CA4741" stroke="#CA4741"/>
<path d="M1394.6 971.3L1390.4 967.4L1386.0 963.9L1381.2 960.9L1376.2 958.2L1371.0 955.9L1365.7 954.2L1360.2 952.8L1354.6 952.0L1349.1 951.7L1343.5 951.8L1338.0 952.4L1332.6 953.5L1327.3 955.1L1322.2 957.1L1317.3 959.6L1312.7 962.5L1308.3 965.8L1304.3 969.5L1300.6 973.5L1297.3 977.9L1294.4 982.5L1291.9 987.4L1289.9 992.5L1288.3 997.8L1287.2 1003.2L1286.6 1008.7L1286.5 1014.3L1286.8 1019.8L1287.6 1025.4L1289.0 1030.9L1290.7 1036.2L1293.0 1041.4L1295.7 1046.4L1298.7 1051.2L1302.2 1055.6L1306.1 1059.8L1310.3 1063.7L1314.7 1067.2L1319.5 1070.2L1324.5 1072.9L1329.7 1075.2L1335.0 1076.9L1340.5 1078.3L1346.1 1079.1L1351.6 1079.4L1357.2 1079.3L1362.7 1078.7L1368.1 1077.6L1373.4 1076.0L1378.5 1074.0L1383.4 1071.5L1388.0 1068.6L1392.4 1065.3L1396.4 1061.6L1400.1 1057.6L1403.4 1053.2L1406.3 1048.6L1408.8 1043.7L1410.8 1038.6L1412.4 1033.3L1413.5 1027.9L1414.1 1022.4L1414.2 1016.8L1413.9 1011.3L1413.1 1005.7L1411.7 1000.2L1410.0 994.9L1407.7 989.7L1405.0 984.7L1402.0 979.9L1398.5 975.5Z" fill="#FFF7F2" stroke="#FFF7F2"/>
<path d="M1536.3 980.0L1531.6 975.5L1526.6 971.3L1521.4 967.4L1516.0 964.0L1510.5 960.9L1505.0 958.2L1499.4 956.0L1493.9 954.2L1488.4 952.8L1482.9 952.0L1477.7 951.7L1472.5 951.8L1467.7 952.4L1463.0 953.5L1458.7 955.1L1454.6 957.1L1450.9 959.6L1447.6 962.5L1444.7 965.8L1442.3 969.4L1440.2 973.5L1438.7 977.8L1437.6 982.5L1437.0 987.4L1436.8 992.5L1437.2 997.8L1438.0 1003.2L1439.3 1008.7L1441.1 1014.2L1443.4 1019.8L1446.0 1025.4L1449.1 1030.8L1452.6 1036.2L1456.5 1041.4L1460.7 1046.4L1465.1 1051.1L1469.9 1055.6L1474.9 1059.8L1480.1 1063.7L1485.4 1067.1L1490.9 1070.2L1496.5 1072.9L1502.0 1075.1L1507.6 1076.9L1513.1 1078.3L1518.5 1079.1L1523.8 1079.4L1528.9 1079.3L1533.8 1078.7L1538.4 1077.6L1542.8 1076.0L1546.8 1074.0L1550.5 1071.5L1553.8 1068.6L1556.7 1065.3L1559.2 1061.7L1561.2 1057.6L1562.8 1053.3L1563.9 1048.6L1564.5 1043.7L1564.6 1038.6L1564.3 1033.3L1563.4 1027.9L1562.1 1022.4L1560.3 1016.9L1558.1 1011.3L1555.4 1005.7L1552.3 1000.3L1548.8 994.9L1545.0 989.7L1540.8 984.7Z" fill="#F5A987" stroke="#F5A987"/>
<path d="M1708.6 958.0L1706.0 955.8L1702.9 954.1L1699.5 952.8L1695.6 952.0L1691.5 951.6L1687.0 951.8L1682.2 952.5L1677.3 953.6L1672.1 955.2L1666.7 957.2L1661.3 959.7L1655.7 962.7L1650.2 966.0L1644.6 969.7L1639.1 973.8L1633.7 978.1L1628.4 982.8L1623.3 987.7L1618.3 992.8L1613.7 998.1L1609.3 1003.5L1605.3 1009.0L1601.6 1014.6L1598.2 1020.2L1595.3 1025.7L1592.8 1031.2L1590.7 1036.5L1589.1 1041.7L1588.0 1046.7L1587.4 1051.4L1587.2 1055.9L1587.5 1060.1L1588.3 1063.9L1589.6 1067.4L1591.4 1070.4L1593.6 1073.1L1596.2 1075.3L1599.3 1077.0L1602.8 1078.3L1606.6 1079.1L1610.8 1079.5L1615.2 1079.3L1620.0 1078.6L1625.0 1077.5L1630.1 1075.9L1635.5 1073.9L1640.9 1071.4L1646.5 1068.4L1652.0 1065.1L1657.6 1061.4L1663.1 1057.3L1668.6 1053.0L1673.8 1048.3L1679.0 1043.4L1683.9 1038.3L1688.5 1033.0L1692.9 1027.6L1697.0 1022.1L1700.7 1016.5L1704.0 1010.9L1706.9 1005.4L1709.4 999.9L1711.5 994.6L1713.1 989.4L1714.2 984.4L1714.9 979.7L1715.0 975.2L1714.7 971.0L1713.9 967.2L1712.6 963.7L1710.8 960.7Z" fill="#408FC1" stroke="#408FC1"/>
<path d="M683.9 1228.8L811.7 1101.0" stroke="#0B2560" stroke-width="6.2" fill="none"/>
<path d="M915.5 1149.6L910.1 1144.3L904.5 1139.2L899.0 1134.2L893.4 1129.5L887.9 1125.0L882.4 1120.9L877.1 1117.1L872.0 1113.7L867.0 1110.7L862.3 1108.1L857.9 1106.0L853.8 1104.3L850.1 1103.0L846.7 1102.3L843.7 1102.0L841.2 1102.2L839.1 1102.9L837.4 1104.1L836.2 1105.8L835.5 1107.9L835.3 1110.5L835.6 1113.4L836.3 1116.8L837.5 1120.6L839.2 1124.7L841.4 1129.1L844.0 1133.8L847.0 1138.7L850.4 1143.8L854.2 1149.1L858.3 1154.6L862.8 1160.1L867.5 1165.7L872.4 1171.2L877.6 1176.8L882.9 1182.2L888.4 1187.5L893.9 1192.7L899.5 1197.7L905.0 1202.4L910.6 1206.8L916.0 1210.9L921.3 1214.7L926.5 1218.1L931.4 1221.2L936.1 1223.7L940.5 1225.9L944.6 1227.6L948.3 1228.8L951.7 1229.6L954.7 1229.8L957.2 1229.6L959.4 1228.9L961.0 1227.7L962.2 1226.1L962.9 1224.0L963.1 1221.4L962.9 1218.4L962.1 1215.1L960.9 1211.3L959.2 1207.2L957.0 1202.8L954.4 1198.1L951.4 1193.2L948.0 1188.0L944.2 1182.7L940.1 1177.3L935.7 1171.8L930.9 1166.2L926.0 1160.6L920.8 1155.1Z" fill="#940E26" stroke="#940E26"/>
<path d="M1063.9 1151.6L1058.4 1146.3L1052.8 1141.0L1047.3 1136.0L1041.7 1131.2L1036.2 1126.7L1030.8 1122.4L1025.6 1118.5L1020.5 1114.9L1015.6 1111.8L1011.1 1109.0L1006.8 1106.7L1002.8 1104.8L999.2 1103.4L995.9 1102.5L993.1 1102.1L990.7 1102.1L988.8 1102.6L987.3 1103.6L986.3 1105.1L985.8 1107.1L985.7 1109.5L986.2 1112.3L987.1 1115.5L988.5 1119.1L990.4 1123.1L992.7 1127.4L995.4 1132.0L998.6 1136.8L1002.2 1141.9L1006.1 1147.2L1010.3 1152.6L1014.9 1158.1L1019.7 1163.6L1024.7 1169.2L1029.9 1174.7L1035.3 1180.2L1040.8 1185.6L1046.3 1190.8L1051.9 1195.9L1057.5 1200.7L1063.0 1205.2L1068.4 1209.5L1073.6 1213.4L1078.7 1216.9L1083.5 1220.1L1088.1 1222.8L1092.4 1225.2L1096.4 1227.0L1100.0 1228.4L1103.2 1229.4L1106.1 1229.8L1108.5 1229.8L1110.4 1229.2L1111.9 1228.2L1112.9 1226.7L1113.4 1224.8L1113.5 1222.4L1113.0 1219.6L1112.1 1216.3L1110.7 1212.7L1108.8 1208.8L1106.5 1204.5L1103.7 1199.9L1100.6 1195.0L1097.0 1190.0L1093.1 1184.7L1088.9 1179.3L1084.3 1173.8L1079.5 1168.2L1074.5 1162.7L1069.3 1157.1Z" fill="#890B24" stroke="#890B24"/>
<path d="M1220.2 1145.7L1214.8 1140.5L1209.3 1135.5L1203.8 1130.7L1198.2 1126.2L1192.7 1122.0L1187.2 1118.1L1181.7 1114.6L1176.5 1111.5L1171.4 1108.8L1166.5 1106.5L1161.9 1104.7L1157.6 1103.3L1153.6 1102.4L1149.9 1102.0L1146.6 1102.1L1143.8 1102.7L1141.3 1103.8L1139.3 1105.3L1137.8 1107.3L1136.7 1109.7L1136.2 1112.6L1136.1 1115.9L1136.5 1119.5L1137.4 1123.5L1138.7 1127.9L1140.5 1132.5L1142.8 1137.3L1145.5 1142.4L1148.6 1147.7L1152.2 1153.1L1156.0 1158.6L1160.2 1164.2L1164.8 1169.8L1169.5 1175.3L1174.6 1180.8L1179.8 1186.1L1185.1 1191.3L1190.6 1196.4L1196.1 1201.1L1201.7 1205.7L1207.3 1209.9L1212.8 1213.7L1218.2 1217.3L1223.5 1220.4L1228.6 1223.1L1233.4 1225.4L1238.0 1227.2L1242.4 1228.5L1246.4 1229.4L1250.0 1229.8L1253.3 1229.7L1256.2 1229.2L1258.6 1228.1L1260.6 1226.6L1262.1 1224.6L1263.2 1222.1L1263.8 1219.3L1263.9 1216.0L1263.5 1212.3L1262.6 1208.3L1261.2 1204.0L1259.4 1199.4L1257.1 1194.5L1254.4 1189.4L1251.3 1184.2L1247.8 1178.7L1243.9 1173.2L1239.7 1167.7L1235.2 1162.1L1230.4 1156.6L1225.4 1151.1Z" fill="#AF172A" stroke="#AF172A"/>
<path d="M1385.4 1130.9L1380.6 1126.4L1375.5 1122.2L1370.3 1118.3L1365.0 1114.7L1359.5 1111.6L1353.9 1108.9L1348.4 1106.6L1342.8 1104.7L1337.3 1103.4L1331.9 1102.5L1326.6 1102.0L1321.5 1102.1L1316.7 1102.7L1312.1 1103.7L1307.8 1105.2L1303.8 1107.2L1300.1 1109.6L1296.9 1112.5L1294.0 1115.7L1291.6 1119.3L1289.6 1123.3L1288.1 1127.7L1287.1 1132.3L1286.5 1137.1L1286.5 1142.2L1286.9 1147.5L1287.8 1152.9L1289.2 1158.4L1291.0 1163.9L1293.3 1169.5L1296.0 1175.1L1299.2 1180.5L1302.7 1185.9L1306.6 1191.1L1310.8 1196.1L1315.3 1200.9L1320.1 1205.5L1325.2 1209.7L1330.4 1213.6L1335.7 1217.1L1341.2 1220.3L1346.8 1223.0L1352.3 1225.3L1357.9 1227.1L1363.4 1228.5L1368.8 1229.4L1374.1 1229.8L1379.2 1229.7L1384.0 1229.2L1388.6 1228.2L1392.9 1226.6L1396.9 1224.7L1400.6 1222.2L1403.8 1219.4L1406.7 1216.1L1409.1 1212.5L1411.1 1208.5L1412.6 1204.2L1413.6 1199.6L1414.2 1194.7L1414.2 1189.7L1413.8 1184.4L1412.9 1179.0L1411.5 1173.5L1409.7 1167.9L1407.4 1162.4L1404.7 1156.8L1401.5 1151.3L1398.0 1146.0L1394.1 1140.7L1389.9 1135.7Z" fill="#F3A380" stroke="#F3A380"/>
<path d="M1535.4 1131.2L1530.6 1126.7L1525.6 1122.4L1520.4 1118.5L1515.0 1115.0L1509.5 1111.8L1504.0 1109.0L1498.4 1106.7L1492.8 1104.8L1487.3 1103.4L1481.9 1102.5L1476.7 1102.1L1471.6 1102.1L1466.8 1102.6L1462.2 1103.6L1457.9 1105.1L1453.9 1107.1L1450.3 1109.4L1447.1 1112.3L1444.2 1115.5L1441.9 1119.1L1439.9 1123.1L1438.4 1127.4L1437.4 1132.0L1436.9 1136.8L1436.9 1141.9L1437.3 1147.1L1438.2 1152.5L1439.6 1158.0L1441.5 1163.6L1443.8 1169.2L1446.6 1174.7L1449.8 1180.2L1453.3 1185.6L1457.2 1190.8L1461.5 1195.8L1466.0 1200.6L1470.8 1205.2L1475.9 1209.4L1481.1 1213.3L1486.5 1216.9L1491.9 1220.1L1497.5 1222.8L1503.1 1225.1L1508.6 1227.0L1514.1 1228.4L1519.5 1229.4L1524.8 1229.8L1529.8 1229.8L1534.7 1229.2L1539.3 1228.2L1543.6 1226.7L1547.5 1224.8L1551.2 1222.4L1554.4 1219.6L1557.2 1216.4L1559.6 1212.7L1561.5 1208.8L1563.0 1204.5L1564.0 1199.9L1564.6 1195.0L1564.6 1190.0L1564.2 1184.7L1563.2 1179.3L1561.8 1173.8L1559.9 1168.3L1557.6 1162.7L1554.9 1157.1L1551.7 1151.7L1548.1 1146.3L1544.2 1141.1L1540.0 1136.0Z" fill="#F3A380" stroke="#F3A380"/>
<path d="M1712.2 1104.8L1710.4 1103.4L1708.1 1102.5L1705.3 1102.1L1702.2 1102.1L1698.6 1102.6L1694.7 1103.7L1690.5 1105.2L1686.0 1107.1L1681.2 1109.5L1676.1 1112.4L1670.9 1115.6L1665.5 1119.2L1660.1 1123.2L1654.5 1127.5L1648.9 1132.1L1643.4 1137.0L1637.9 1142.0L1632.5 1147.3L1627.2 1152.7L1622.1 1158.2L1617.3 1163.8L1612.7 1169.3L1608.4 1174.9L1604.4 1180.4L1600.8 1185.7L1597.5 1191.0L1594.7 1196.0L1592.3 1200.8L1590.3 1205.3L1588.8 1209.6L1587.8 1213.5L1587.3 1217.0L1587.2 1220.2L1587.7 1222.9L1588.6 1225.2L1590.0 1227.1L1591.8 1228.5L1594.1 1229.4L1596.9 1229.8L1600.0 1229.8L1603.6 1229.2L1607.5 1228.2L1611.7 1226.7L1616.3 1224.7L1621.1 1222.3L1626.1 1219.5L1631.3 1216.3L1636.7 1212.6L1642.2 1208.7L1647.7 1204.3L1653.3 1199.8L1658.8 1194.9L1664.3 1189.8L1669.7 1184.6L1675.0 1179.2L1680.1 1173.7L1684.9 1168.1L1689.5 1162.5L1693.8 1157.0L1697.8 1151.5L1701.4 1146.1L1704.7 1140.9L1707.5 1135.9L1709.9 1131.1L1711.9 1126.5L1713.4 1122.3L1714.4 1118.4L1714.9 1114.9L1715.0 1111.7L1714.6 1109.0L1713.6 1106.7Z" fill="#1D5EA1" stroke="#1D5EA1"/>
<path d="M834.3 1379.2L962.1 1251.4" stroke="#0B2560" stroke-width="6.2" fill="none"/>
<path d="M1111.4 1254.5L1109.7 1253.3L1107.6 1252.6L1105.1 1252.4L1102.1 1252.7L1098.7 1253.4L1095.0 1254.6L1090.9 1256.3L1086.5 1258.5L1081.8 1261.1L1076.8 1264.1L1071.7 1267.5L1066.4 1271.3L1060.9 1275.4L1055.4 1279.9L1049.8 1284.6L1044.3 1289.5L1038.7 1294.7L1033.3 1300.0L1028.0 1305.5L1022.8 1311.0L1017.9 1316.6L1013.1 1322.1L1008.7 1327.7L1004.6 1333.1L1000.8 1338.4L997.4 1343.6L994.4 1348.5L991.8 1353.2L989.6 1357.6L987.9 1361.7L986.7 1365.4L985.9 1368.8L985.7 1371.8L985.9 1374.3L986.6 1376.5L987.8 1378.1L989.4 1379.3L991.6 1380.0L994.1 1380.2L997.1 1380.0L1000.5 1379.2L1004.2 1378.0L1008.3 1376.3L1012.7 1374.1L1017.4 1371.5L1022.3 1368.5L1027.5 1365.1L1032.8 1361.3L1038.2 1357.2L1043.8 1352.8L1049.3 1348.0L1054.9 1343.1L1060.4 1337.9L1065.9 1332.6L1071.2 1327.2L1076.4 1321.6L1081.3 1316.1L1086.0 1310.5L1090.5 1305.0L1094.6 1299.5L1098.4 1294.2L1101.8 1289.1L1104.8 1284.1L1107.4 1279.4L1109.6 1275.0L1111.3 1270.9L1112.5 1267.2L1113.2 1263.8L1113.5 1260.8L1113.3 1258.3L1112.6 1256.2Z" fill="#175392" stroke="#175392"/>
<path d="M1260.4 1255.8L1258.4 1254.3L1255.9 1253.2L1253.0 1252.5L1249.7 1252.4L1246.0 1252.8L1242.0 1253.6L1237.6 1254.9L1233.0 1256.7L1228.1 1258.9L1223.0 1261.6L1217.7 1264.7L1212.3 1268.1L1206.8 1272.0L1201.2 1276.2L1195.6 1280.7L1190.1 1285.4L1184.6 1290.4L1179.3 1295.6L1174.1 1300.9L1169.1 1306.4L1164.3 1312.0L1159.8 1317.5L1155.6 1323.1L1151.8 1328.6L1148.3 1334.0L1145.2 1339.3L1142.6 1344.4L1140.3 1349.3L1138.6 1354.0L1137.3 1358.3L1136.4 1362.4L1136.1 1366.0L1136.2 1369.4L1136.8 1372.3L1137.9 1374.7L1139.5 1376.8L1141.5 1378.3L1144.0 1379.5L1146.9 1380.1L1150.2 1380.2L1153.9 1379.9L1158.0 1379.0L1162.3 1377.7L1167.0 1375.9L1171.9 1373.7L1177.0 1371.0L1182.3 1368.0L1187.7 1364.5L1193.2 1360.6L1198.8 1356.5L1204.3 1352.0L1209.9 1347.2L1215.3 1342.2L1220.7 1337.0L1225.9 1331.7L1230.9 1326.2L1235.6 1320.7L1240.1 1315.1L1244.3 1309.5L1248.1 1304.0L1251.6 1298.6L1254.7 1293.3L1257.4 1288.2L1259.6 1283.3L1261.4 1278.7L1262.7 1274.3L1263.5 1270.3L1263.9 1266.6L1263.7 1263.3L1263.1 1260.4L1262.0 1257.9Z" fill="#2368AD" stroke="#2368AD"/>
<path d="M1400.7 1266.0L1397.0 1262.7L1393.1 1259.9L1388.8 1257.5L1384.2 1255.5L1379.3 1254.1L1374.2 1253.0L1369.0 1252.5L1363.6 1252.4L1358.1 1252.9L1352.5 1253.8L1346.9 1255.2L1341.4 1257.0L1335.9 1259.3L1330.5 1262.1L1325.3 1265.2L1320.3 1268.8L1315.5 1272.7L1311.0 1276.9L1306.7 1281.4L1302.8 1286.2L1299.3 1291.3L1296.1 1296.5L1293.4 1301.9L1291.1 1307.4L1289.2 1312.9L1287.8 1318.5L1286.9 1324.0L1286.5 1329.5L1286.5 1334.9L1287.1 1340.2L1288.1 1345.3L1289.6 1350.1L1291.5 1354.7L1293.9 1359.0L1296.8 1363.0L1300.0 1366.6L1303.7 1369.9L1307.6 1372.7L1311.9 1375.1L1316.5 1377.1L1321.4 1378.6L1326.5 1379.6L1331.7 1380.1L1337.1 1380.2L1342.6 1379.8L1348.2 1378.8L1353.8 1377.4L1359.3 1375.6L1364.8 1373.3L1370.2 1370.5L1375.4 1367.4L1380.4 1363.8L1385.2 1359.9L1389.7 1355.7L1394.0 1351.2L1397.9 1346.4L1401.4 1341.3L1404.6 1336.1L1407.3 1330.7L1409.6 1325.3L1411.5 1319.7L1412.9 1314.1L1413.8 1308.6L1414.2 1303.1L1414.2 1297.7L1413.6 1292.4L1412.6 1287.4L1411.1 1282.5L1409.2 1277.9L1406.8 1273.6L1403.9 1269.6Z" fill="#C6DFED" stroke="#C6DFED"/>
<path d="M1554.2 1262.8L1550.9 1260.0L1547.3 1257.6L1543.3 1255.6L1539.0 1254.1L1534.4 1253.1L1529.5 1252.5L1524.5 1252.4L1519.2 1252.8L1513.8 1253.7L1508.3 1255.1L1502.7 1257.0L1497.2 1259.3L1491.6 1262.0L1486.1 1265.1L1480.8 1268.7L1475.5 1272.6L1470.5 1276.8L1465.7 1281.3L1461.2 1286.1L1457.0 1291.1L1453.1 1296.3L1449.5 1301.7L1446.4 1307.2L1443.7 1312.7L1441.4 1318.3L1439.5 1323.9L1438.2 1329.4L1437.3 1334.8L1436.8 1340.0L1436.9 1345.1L1437.5 1350.0L1438.5 1354.6L1440.0 1358.9L1442.0 1362.9L1444.4 1366.5L1447.3 1369.8L1450.5 1372.6L1454.1 1375.0L1458.1 1377.0L1462.5 1378.5L1467.1 1379.6L1471.9 1380.1L1477.0 1380.2L1482.3 1379.8L1487.7 1378.9L1493.2 1377.5L1498.7 1375.7L1504.3 1373.4L1509.9 1370.6L1515.3 1367.5L1520.7 1364.0L1525.9 1360.1L1530.9 1355.8L1535.7 1351.3L1540.3 1346.5L1544.5 1341.5L1548.4 1336.3L1551.9 1330.9L1555.1 1325.4L1557.8 1319.9L1560.1 1314.3L1561.9 1308.8L1563.3 1303.3L1564.2 1297.8L1564.6 1292.6L1564.5 1287.5L1564.0 1282.6L1563.0 1278.0L1561.4 1273.7L1559.5 1269.7L1557.0 1266.1Z" fill="#93C5DE" stroke="#93C5DE"/>
<path d="M1678.6 1288.8L1673.5 1283.9L1668.2 1279.2L1662.7 1274.8L1657.2 1270.7L1651.6 1267.0L1646.1 1263.7L1640.5 1260.7L1635.1 1258.2L1629.7 1256.1L1624.6 1254.4L1619.6 1253.3L1614.9 1252.6L1610.4 1252.4L1606.3 1252.7L1602.5 1253.5L1599.1 1254.7L1596.0 1256.4L1593.4 1258.6L1591.2 1261.2L1589.5 1264.3L1588.3 1267.7L1587.5 1271.5L1587.2 1275.6L1587.4 1280.1L1588.1 1284.8L1589.2 1289.8L1590.9 1294.9L1593.0 1300.3L1595.5 1305.7L1598.5 1311.3L1601.8 1316.8L1605.5 1322.4L1609.6 1327.9L1614.0 1333.4L1618.7 1338.7L1623.6 1343.8L1628.8 1348.7L1634.1 1353.4L1639.5 1357.8L1645.0 1361.9L1650.6 1365.6L1656.2 1369.0L1661.7 1371.9L1667.1 1374.5L1672.5 1376.5L1677.6 1378.2L1682.6 1379.3L1687.3 1380.0L1691.8 1380.2L1695.9 1379.9L1699.7 1379.2L1703.2 1377.9L1706.2 1376.2L1708.8 1374.0L1711.0 1371.4L1712.7 1368.4L1714.0 1364.9L1714.7 1361.1L1715.0 1357.0L1714.8 1352.5L1714.1 1347.8L1713.0 1342.8L1711.3 1337.7L1709.3 1332.3L1706.7 1326.9L1703.8 1321.4L1700.4 1315.8L1696.7 1310.2L1692.6 1304.7L1688.2 1299.3L1683.5 1294.0Z" fill="#CF5247" stroke="#CF5247"/>
<path d="M984.7 1529.6L1112.5 1401.8" stroke="#0B2560" stroke-width="6.2" fill="none"/>
<path d="M1260.6 1406.1L1258.6 1404.5L1256.2 1403.5L1253.3 1402.9L1250.0 1402.8L1246.4 1403.2L1242.4 1404.1L1238.0 1405.4L1233.4 1407.3L1228.6 1409.5L1223.5 1412.2L1218.2 1415.4L1212.8 1418.9L1207.3 1422.7L1201.7 1427.0L1196.1 1431.5L1190.6 1436.3L1185.1 1441.3L1179.8 1446.5L1174.6 1451.8L1169.5 1457.3L1164.8 1462.9L1160.2 1468.4L1156.0 1474.0L1152.2 1479.5L1148.6 1484.9L1145.5 1490.2L1142.8 1495.3L1140.5 1500.1L1138.7 1504.8L1137.4 1509.1L1136.5 1513.1L1136.1 1516.8L1136.2 1520.0L1136.7 1522.9L1137.8 1525.3L1139.3 1527.3L1141.3 1528.9L1143.8 1529.9L1146.6 1530.5L1149.9 1530.6L1153.6 1530.2L1157.6 1529.3L1161.9 1527.9L1166.5 1526.1L1171.4 1523.9L1176.5 1521.1L1181.7 1518.0L1187.2 1514.5L1192.7 1510.6L1198.2 1506.4L1203.8 1501.9L1209.3 1497.1L1214.8 1492.1L1220.2 1486.9L1225.4 1481.5L1230.4 1476.1L1235.2 1470.5L1239.7 1464.9L1243.9 1459.4L1247.8 1453.9L1251.3 1448.5L1254.4 1443.2L1257.1 1438.1L1259.4 1433.2L1261.2 1428.6L1262.6 1424.3L1263.5 1420.3L1263.9 1416.6L1263.8 1413.4L1263.2 1410.5L1262.1 1408.1Z" fill="#2166AC" stroke="#2166AC"/>
<path d="M1403.4 1413.6L1400.1 1410.7L1396.5 1408.2L1392.4 1406.2L1388.1 1404.6L1383.4 1403.5L1378.5 1402.9L1373.4 1402.8L1368.1 1403.1L1362.7 1404.0L1357.2 1405.3L1351.7 1407.1L1346.1 1409.3L1340.5 1412.0L1335.1 1415.1L1329.7 1418.6L1324.5 1422.4L1319.5 1426.6L1314.8 1431.1L1310.3 1435.9L1306.1 1440.9L1302.2 1446.1L1298.8 1451.4L1295.7 1456.9L1293.0 1462.4L1290.8 1468.0L1289.0 1473.6L1287.6 1479.1L1286.8 1484.5L1286.5 1489.8L1286.6 1494.9L1287.2 1499.8L1288.3 1504.4L1289.9 1508.8L1291.9 1512.8L1294.4 1516.5L1297.3 1519.8L1300.6 1522.7L1304.2 1525.2L1308.3 1527.2L1312.6 1528.7L1317.3 1529.8L1322.2 1530.5L1327.3 1530.6L1332.6 1530.2L1338.0 1529.4L1343.5 1528.1L1349.0 1526.3L1354.6 1524.1L1360.2 1521.4L1365.6 1518.3L1371.0 1514.8L1376.2 1511.0L1381.2 1506.8L1385.9 1502.3L1390.4 1497.5L1394.6 1492.5L1398.5 1487.3L1401.9 1482.0L1405.0 1476.5L1407.7 1471.0L1409.9 1465.4L1411.7 1459.8L1413.1 1454.3L1413.9 1448.9L1414.2 1443.6L1414.1 1438.5L1413.5 1433.6L1412.4 1429.0L1410.8 1424.6L1408.8 1420.6L1406.3 1416.9Z" fill="#99C9E0" stroke="#99C9E0"/>
<path d="M1555.7 1411.7L1552.7 1409.1L1549.2 1406.9L1545.4 1405.2L1541.2 1403.9L1536.8 1403.1L1532.0 1402.8L1527.1 1403.0L1521.9 1403.6L1516.6 1404.8L1511.1 1406.4L1505.6 1408.5L1500.0 1411.0L1494.4 1413.9L1488.9 1417.3L1483.5 1421.0L1478.2 1425.0L1473.1 1429.4L1468.1 1434.1L1463.5 1439.0L1459.1 1444.1L1455.0 1449.4L1451.3 1454.9L1448.0 1460.4L1445.0 1466.0L1442.5 1471.5L1440.4 1477.1L1438.8 1482.5L1437.7 1487.9L1437.0 1493.0L1436.8 1498.0L1437.1 1502.7L1437.9 1507.2L1439.2 1511.4L1440.9 1515.2L1443.1 1518.6L1445.8 1521.7L1448.8 1524.3L1452.2 1526.5L1456.1 1528.2L1460.2 1529.5L1464.7 1530.3L1469.4 1530.6L1474.4 1530.4L1479.6 1529.8L1484.9 1528.6L1490.4 1527.0L1495.9 1524.9L1501.5 1522.4L1507.0 1519.5L1512.5 1516.1L1518.0 1512.4L1523.3 1508.3L1528.4 1503.9L1533.3 1499.3L1538.0 1494.4L1542.4 1489.2L1546.4 1483.9L1550.2 1478.5L1553.5 1473.0L1556.4 1467.4L1559.0 1461.9L1561.0 1456.3L1562.6 1450.9L1563.8 1445.5L1564.5 1440.3L1564.6 1435.4L1564.3 1430.6L1563.5 1426.2L1562.3 1422.0L1560.5 1418.2L1558.3 1414.8Z" fill="#73B2D4" stroke="#73B2D4"/>
<path d="M1668.6 1449.2L1663.2 1443.9L1657.7 1438.8L1652.1 1433.9L1646.5 1429.2L1641.0 1424.8L1635.5 1420.8L1630.2 1417.1L1625.0 1413.8L1620.0 1410.8L1615.3 1408.4L1610.8 1406.3L1606.6 1404.7L1602.8 1403.6L1599.3 1402.9L1596.3 1402.8L1593.6 1403.1L1591.4 1403.9L1589.6 1405.2L1588.4 1407.0L1587.5 1409.2L1587.2 1411.8L1587.4 1414.9L1588.0 1418.4L1589.1 1422.2L1590.7 1426.4L1592.8 1430.9L1595.3 1435.6L1598.2 1440.6L1601.5 1445.8L1605.2 1451.1L1609.3 1456.6L1613.6 1462.1L1618.3 1467.7L1623.2 1473.3L1628.3 1478.8L1633.6 1484.2L1639.0 1489.5L1644.5 1494.6L1650.1 1499.5L1655.7 1504.2L1661.2 1508.5L1666.7 1512.6L1672.0 1516.3L1677.2 1519.6L1682.2 1522.5L1686.9 1525.0L1691.4 1527.1L1695.6 1528.7L1699.4 1529.8L1702.9 1530.4L1706.0 1530.6L1708.6 1530.3L1710.8 1529.4L1712.6 1528.2L1713.9 1526.4L1714.7 1524.2L1715.0 1521.5L1714.9 1518.5L1714.2 1515.0L1713.1 1511.2L1711.5 1507.0L1709.4 1502.5L1707.0 1497.8L1704.0 1492.8L1700.7 1487.6L1697.0 1482.3L1693.0 1476.8L1688.6 1471.3L1683.9 1465.7L1679.0 1460.1L1673.9 1454.6Z" fill="#A01228" stroke="#A01228"/>
<path d="M1135.1 1680.0L1262.9 1552.2" stroke="#0B2560" stroke-width="6.2" fill="none"/>
<path d="M1549.6 1568.2L1545.8 1564.8L1541.7 1561.8L1537.3 1559.2L1532.6 1557.1L1527.6 1555.4L1522.5 1554.2L1517.2 1553.4L1511.7 1553.2L1506.2 1553.4L1500.6 1554.1L1495.0 1555.3L1489.5 1557.0L1484.1 1559.1L1478.8 1561.7L1473.6 1564.6L1468.7 1568.0L1464.0 1571.8L1459.6 1575.9L1455.5 1580.3L1451.7 1585.0L1448.3 1590.0L1445.3 1595.1L1442.8 1600.4L1440.6 1605.9L1439.0 1611.4L1437.8 1617.0L1437.1 1622.5L1436.8 1628.1L1437.1 1633.5L1437.8 1638.8L1439.0 1644.0L1440.7 1648.9L1442.9 1653.6L1445.4 1658.1L1448.4 1662.2L1451.8 1666.0L1455.6 1669.4L1459.7 1672.4L1464.2 1674.9L1468.9 1677.1L1473.8 1678.8L1479.0 1680.0L1484.3 1680.7L1489.7 1681.0L1495.3 1680.7L1500.8 1680.0L1506.4 1678.8L1511.9 1677.2L1517.4 1675.0L1522.7 1672.5L1527.8 1669.5L1532.8 1666.1L1537.5 1662.3L1541.9 1658.2L1546.0 1653.8L1549.8 1649.1L1553.2 1644.2L1556.1 1639.0L1558.7 1633.7L1560.8 1628.3L1562.5 1622.8L1563.7 1617.2L1564.4 1611.6L1564.6 1606.1L1564.4 1600.6L1563.6 1595.3L1562.4 1590.2L1560.7 1585.2L1558.6 1580.5L1556.0 1576.1L1553.0 1572.0Z" fill="#D9E9F3" stroke="#D9E9F3"/>
<path d="M1675.0 1593.2L1669.8 1588.1L1664.4 1583.2L1658.9 1578.6L1653.3 1574.3L1647.7 1570.3L1642.2 1566.7L1636.7 1563.5L1631.3 1560.7L1626.1 1558.3L1621.1 1556.3L1616.3 1554.8L1611.7 1553.8L1607.5 1553.2L1603.6 1553.2L1600.0 1553.6L1596.9 1554.5L1594.2 1555.9L1591.8 1557.8L1590.0 1560.1L1588.6 1562.9L1587.7 1566.0L1587.2 1569.6L1587.3 1573.5L1587.8 1577.7L1588.8 1582.2L1590.3 1587.0L1592.3 1592.1L1594.7 1597.3L1597.5 1602.7L1600.8 1608.1L1604.4 1613.7L1608.4 1619.3L1612.7 1624.8L1617.3 1630.3L1622.1 1635.7L1627.2 1641.0L1632.5 1646.1L1637.9 1650.9L1643.4 1655.5L1648.9 1659.8L1654.5 1663.8L1660.0 1667.4L1665.5 1670.7L1670.9 1673.5L1676.1 1675.9L1681.1 1677.8L1685.9 1679.3L1690.5 1680.4L1694.7 1680.9L1698.6 1680.9L1702.2 1680.5L1705.3 1679.6L1708.1 1678.2L1710.4 1676.3L1712.2 1674.0L1713.6 1671.3L1714.5 1668.1L1715.0 1664.6L1714.9 1660.7L1714.4 1656.4L1713.4 1651.9L1711.9 1647.1L1709.9 1642.1L1707.5 1636.8L1704.7 1631.5L1701.5 1626.0L1697.8 1620.4L1693.9 1614.9L1689.5 1609.3L1685.0 1603.8L1680.1 1598.4Z" fill="#C13539" stroke="#C13539"/>
<path d="M1285.4 1830.4L1413.3 1702.5" stroke="#0B2560" stroke-width="6.2" fill="none"/>
<path d="M1557.7 1710.5L1555.0 1708.2L1551.8 1706.3L1548.3 1704.9L1544.4 1704.0L1540.1 1703.6L1535.6 1703.6L1530.8 1704.2L1525.8 1705.2L1520.6 1706.7L1515.2 1708.7L1509.7 1711.1L1504.2 1713.9L1498.6 1717.1L1493.0 1720.8L1487.5 1724.7L1482.1 1729.1L1476.9 1733.7L1471.8 1738.5L1466.9 1743.6L1462.3 1748.8L1458.0 1754.2L1454.0 1759.7L1450.4 1765.3L1447.2 1770.9L1444.3 1776.4L1441.9 1781.9L1440.0 1787.3L1438.5 1792.5L1437.5 1797.5L1436.9 1802.3L1436.9 1806.9L1437.3 1811.1L1438.2 1815.0L1439.6 1818.5L1441.4 1821.7L1443.7 1824.4L1446.5 1826.7L1449.6 1828.6L1453.2 1830.0L1457.1 1830.9L1461.3 1831.3L1465.8 1831.3L1470.6 1830.7L1475.7 1829.7L1480.9 1828.2L1486.3 1826.2L1491.7 1823.8L1497.3 1821.0L1502.9 1817.8L1508.4 1814.1L1513.9 1810.2L1519.3 1805.8L1524.6 1801.2L1529.7 1796.4L1534.5 1791.3L1539.1 1786.1L1543.4 1780.7L1547.4 1775.2L1551.0 1769.6L1554.3 1764.0L1557.1 1758.5L1559.5 1753.0L1561.5 1747.6L1563.0 1742.4L1564.0 1737.4L1564.5 1732.6L1564.6 1728.0L1564.2 1723.8L1563.3 1719.9L1561.9 1716.4L1560.0 1713.2Z" fill="#4896C5" stroke="#4896C5"/>
<path d="M1687.0 1731.6L1682.2 1727.1L1677.2 1722.9L1672.1 1719.1L1666.7 1715.7L1661.3 1712.6L1655.7 1709.9L1650.2 1707.7L1644.6 1706.0L1639.1 1704.7L1633.6 1703.9L1628.4 1703.5L1623.2 1703.7L1618.3 1704.4L1613.7 1705.5L1609.3 1707.1L1605.2 1709.1L1601.5 1711.6L1598.2 1714.6L1595.3 1717.9L1592.8 1721.6L1590.7 1725.6L1589.1 1730.0L1588.0 1734.7L1587.4 1739.6L1587.2 1744.7L1587.5 1750.0L1588.3 1755.4L1589.6 1760.9L1591.4 1766.5L1593.6 1772.1L1596.2 1777.6L1599.3 1783.1L1602.8 1788.4L1606.6 1793.6L1610.8 1798.6L1615.2 1803.3L1620.0 1807.8L1625.0 1812.0L1630.2 1815.8L1635.5 1819.2L1641.0 1822.3L1646.5 1825.0L1652.1 1827.2L1657.6 1828.9L1663.1 1830.2L1668.6 1831.0L1673.9 1831.4L1679.0 1831.2L1683.9 1830.5L1688.5 1829.4L1692.9 1827.8L1697.0 1825.8L1700.7 1823.3L1704.0 1820.3L1706.9 1817.0L1709.4 1813.3L1711.5 1809.3L1713.1 1804.9L1714.2 1800.2L1714.9 1795.3L1715.0 1790.2L1714.7 1784.9L1713.9 1779.5L1712.6 1774.0L1710.8 1768.4L1708.6 1762.8L1706.0 1757.3L1702.9 1751.8L1699.4 1746.5L1695.6 1741.3L1691.5 1736.3Z" fill="#F5AB8A" stroke="#F5AB8A"/>
<path d="M1435.8 1980.7L1563.6 1852.9" stroke="#0B2560" stroke-width="6.2" fill="none"/>
<path d="M1694.0 1875.0L1689.7 1871.0L1685.1 1867.4L1680.3 1864.2L1675.2 1861.3L1669.9 1858.9L1664.5 1857.0L1659.0 1855.5L1653.5 1854.5L1647.9 1854.0L1642.4 1854.0L1636.9 1854.4L1631.5 1855.3L1626.3 1856.8L1621.2 1858.6L1616.4 1861.0L1611.9 1863.7L1607.6 1866.9L1603.7 1870.4L1600.2 1874.3L1597.0 1878.6L1594.2 1883.1L1591.9 1888.0L1590.0 1893.0L1588.6 1898.2L1587.7 1903.6L1587.2 1909.1L1587.3 1914.6L1587.8 1920.2L1588.8 1925.8L1590.3 1931.3L1592.2 1936.7L1594.6 1941.9L1597.4 1947.0L1600.7 1951.8L1604.3 1956.4L1608.2 1960.7L1612.5 1964.7L1617.1 1968.3L1622.0 1971.5L1627.0 1974.3L1632.3 1976.7L1637.7 1978.7L1643.2 1980.1L1648.7 1981.1L1654.3 1981.7L1659.9 1981.7L1665.3 1981.2L1670.7 1980.3L1675.9 1978.9L1681.0 1977.0L1685.8 1974.7L1690.3 1972.0L1694.6 1968.8L1698.5 1965.2L1702.1 1961.3L1705.2 1957.1L1708.0 1952.5L1710.3 1947.7L1712.2 1942.7L1713.6 1937.4L1714.5 1932.1L1715.0 1926.6L1714.9 1921.0L1714.4 1915.5L1713.4 1909.9L1711.9 1904.4L1710.0 1899.0L1707.6 1893.8L1704.8 1888.7L1701.6 1883.8L1698.0 1879.3Z" fill="#FEECE1" stroke="#FEECE1"/>
<path d="M1586.2 2131.1L1714.0 2003.3" stroke="#0B2560" stroke-width="6.2" fill="none"/>
</g>
<rect x="1754.4" y="639.2" width="52.5" height="1504.6" fill="url(#cb)" stroke="#000" stroke-width="5.6"/>
<g stroke="#000" stroke-width="5.4" stroke-linecap="round">
<path d="M1806.9 639.6H1818.0"/>
<path d="M1806.9 790.0H1818.0"/>
<path d="M1806.9 940.4H1818.0"/>
<path d="M1806.9 1090.7H1818.0"/>
<path d="M1806.9 1241.1H1818.0"/>
<path d="M1806.9 1391.5H1818.0"/>
<path d="M1806.9 1541.9H1818.0"/>
<path d="M1806.9 1692.3H1818.0"/>
<path d="M1806.9 1842.6H1818.0"/>
<path d="M1806.9 1993.0H1818.0"/>
<path d="M1806.9 2143.4H1818.0"/>
</g>
<g fill="#000" stroke="#000" stroke-width="0.6" stroke-linejoin="round" font-size="82" text-anchor="middle">
<text transform="translate(1873.6 670.2) scale(1 1.055)">1</text>
<path d="M1855.4 661.2h15v12h-15zM1878.8 661.2h16v12h-16z" fill="#fff" stroke="none"/>
<text transform="translate(1873.6 820.6) scale(1 1.055)">0.8</text>
<text transform="translate(1873.6 971.0) scale(1 1.055)">0.6</text>
<text transform="translate(1873.6 1121.3) scale(1 1.055)">0.4</text>
<text transform="translate(1873.6 1271.7) scale(1 1.055)">0.2</text>
<text transform="translate(1873.6 1422.1) scale(1 1.055)">0</text>
<text transform="translate(1873.6 1572.5) scale(1 1.055)"><tspan dy="8.6">−</tspan><tspan dy="-8.6">0.2</tspan></text>
<text transform="translate(1873.6 1722.9) scale(1 1.055)"><tspan dy="8.6">−</tspan><tspan dy="-8.6">0.4</tspan></text>
<text transform="translate(1873.6 1873.2) scale(1 1.055)"><tspan dy="8.6">−</tspan><tspan dy="-8.6">0.6</tspan></text>
<text transform="translate(1873.6 2023.6) scale(1 1.055)"><tspan dy="8.6">−</tspan><tspan dy="-8.6">0.8</tspan></text>
<text transform="translate(1873.6 2174.0) scale(1 1.055)"><tspan dy="8.6">−</tspan><tspan dy="-8.6">1</tspan></text>
<path d="M1879.3 2165.0h15v12h-15zM1902.7 2165.0h16v12h-16z" fill="#fff" stroke="none"/>
</g>
<g fill="#F7A9BD"><circle cx="614.6" cy="1298.4" r="2.6"/><circle cx="308.4" cy="823.7" r="2.6" opacity="0.8"/><circle cx="194" cy="816.8" r="2.6" opacity="0.5"/></g>
<g id="fish">
<path d="M191.0 1541.0C191.2 1535.9 192.6 1525.2 195.8 1518.4C199.0 1511.5 203.9 1503.7 210.3 1499.8C216.8 1495.9 226.5 1495.1 234.5 1495.0C242.6 1494.9 250.6 1497.3 258.7 1499.0C266.8 1500.8 275.4 1503.1 282.9 1505.5C290.4 1507.9 297.2 1511.4 303.9 1513.5C310.6 1515.7 318.7 1515.4 323.2 1518.4C327.8 1521.3 331.3 1526.7 331.3 1531.3C331.3 1535.9 327.3 1543.4 323.2 1545.8C319.2 1548.2 311.9 1546.6 307.1 1545.8C302.3 1545.0 298.2 1542.2 294.2 1541.0C290.2 1539.8 288.8 1538.1 282.9 1538.5C277.0 1539.0 266.8 1541.4 258.7 1543.4C250.6 1545.4 242.6 1549.0 234.5 1550.6C226.5 1552.3 217.0 1553.3 210.3 1553.1C203.6 1552.8 197.4 1551.0 194.2 1549.0C191.0 1547.0 190.7 1546.1 191.0 1541.0Z" fill="url(#gTail)"/>
<path d="M212 1502L268 1520M200 1520L270 1528M196 1538L272 1534" stroke="#F9D99A" stroke-width="3" fill="none" opacity="0.8"/>
<path d="M347.4 1592.6C342.0 1589.5 336.7 1592.6 331.3 1593.4C325.9 1594.2 320.3 1595.4 315.2 1597.4C310.1 1599.4 303.6 1602.0 300.6 1605.5C297.7 1609.0 297.4 1613.5 297.4 1618.4C297.4 1623.2 298.5 1628.3 300.6 1634.5C302.8 1640.7 306.3 1648.0 310.3 1655.5C314.4 1663.0 319.2 1673.2 324.8 1679.7C330.5 1686.1 337.7 1690.4 344.2 1694.2C350.6 1698.0 357.9 1700.6 363.5 1702.3C369.2 1703.9 375.6 1709.0 378.1 1703.9C380.5 1698.8 378.6 1682.4 378.1 1671.6C377.5 1660.9 377.3 1649.3 374.8 1639.4C372.4 1629.4 368.1 1619.7 363.5 1611.9C359.0 1604.1 352.8 1595.7 347.4 1592.6Z" fill="url(#gFinUL)"/>
<path d="M300.0 1605.0L365.0 1610.0M306.0 1615.5L366.5 1620.5M312.0 1626.0L368.0 1631.0M318.0 1636.5L369.5 1641.5M324.0 1647.0L371.0 1652.0M330.0 1657.5L372.5 1662.5M336.0 1668.0L374.0 1673.0M342.0 1678.5L375.5 1683.5M348.0 1689.0L377.0 1694.0" stroke="#C8803F" stroke-width="2.6" fill="none" opacity="0.75"/>
<path d="M601.6 1741.9C603.8 1733.9 615.6 1724.2 624.2 1717.7C632.8 1711.3 644.1 1706.2 653.2 1703.2C662.4 1700.3 672.2 1698.4 679.0 1700.0C685.9 1701.6 691.8 1707.3 694.5 1712.9C697.2 1718.5 696.1 1726.6 695.2 1733.9C694.2 1741.1 691.9 1749.5 688.7 1756.5C685.5 1763.4 681.7 1768.8 675.8 1775.8C669.9 1782.8 660.8 1792.9 653.2 1798.4C645.7 1803.9 636.3 1809.8 630.6 1808.7C625.0 1807.6 622.6 1799.0 619.4 1791.9C616.1 1784.8 614.2 1774.5 611.3 1766.1C608.3 1757.8 599.5 1750.0 601.6 1741.9Z" fill="url(#gFinR)"/>
<path d="M629.1 1755.8L666.0 1708.5M631.3 1757.8L675.5 1717.3M633.1 1760.2L683.4 1727.5M634.5 1762.8L689.5 1738.9M635.5 1765.6L693.7 1751.1M635.9 1768.6L695.8 1763.9M635.9 1771.6L695.7 1776.8M635.4 1774.5L693.5 1789.5M634.4 1777.3L689.3 1801.7M633.0 1779.9L683.0 1813.1M631.2 1782.3L675.0 1823.2" stroke="#D9995A" stroke-width="2.4" fill="none" opacity="0.8" clip-path="url(#cFinR)"/>
<path d="M382.3 1724.2C378.0 1719.4 372.8 1722.0 369.4 1724.2C365.9 1726.3 362.9 1731.7 361.3 1737.1C359.7 1742.5 359.1 1750.5 359.7 1756.5C360.2 1762.4 361.8 1767.2 364.5 1772.6C367.2 1778.0 371.2 1783.3 375.8 1788.7C380.4 1794.1 386.6 1801.6 391.9 1804.8C397.3 1808.1 405.9 1811.8 408.1 1808.1C410.2 1804.3 407.0 1791.4 404.8 1782.3C402.7 1773.1 398.9 1762.9 395.2 1753.2C391.4 1743.5 386.6 1729.0 382.3 1724.2Z" fill="url(#gFinL)"/>
<path d="M408.1 1817.7C404.6 1816.7 401.9 1825.3 400.0 1830.6C398.1 1836.0 396.5 1843.5 396.8 1850.0C397.0 1856.5 399.2 1863.4 401.6 1869.4C404.0 1875.3 407.0 1880.4 411.3 1885.5C415.6 1890.6 421.5 1896.7 427.4 1900.0C433.3 1903.3 441.4 1905.2 446.8 1905.5C452.2 1905.8 460.8 1907.6 459.7 1901.6C458.6 1895.6 446.8 1880.1 440.3 1869.4C433.9 1858.6 426.3 1845.7 421.0 1837.1C415.6 1828.5 411.6 1818.8 408.1 1817.7Z" fill="url(#gFinL)"/>
<path d="M366 1740L392 1790M362 1752L386 1796M372 1730L398 1782" stroke="#E0A868" stroke-width="2.2" fill="none" opacity="0.7"/>
<path d="M402 1840L436 1896M400 1856L428 1900M408 1830L444 1890" stroke="#E0A868" stroke-width="2.2" fill="none" opacity="0.7"/>
<path d="M530.0 1980.0C530.3 1980.6 540.2 1986.9 546.3 1988.2C552.5 1989.6 559.6 1989.7 566.8 1988.2C573.9 1986.7 582.4 1983.3 589.2 1979.0C596.0 1974.8 602.5 1969.1 607.6 1962.7C612.7 1956.2 617.3 1946.0 619.9 1940.2C622.4 1934.4 623.6 1929.0 622.9 1927.9C622.3 1926.9 619.0 1929.3 615.8 1934.1C612.6 1938.8 608.6 1950.1 603.5 1956.5C598.4 1963.0 591.6 1968.5 585.1 1972.9C578.7 1977.3 571.5 1981.1 564.7 1983.1C557.9 1985.1 550.1 1985.7 544.3 1985.1C538.5 1984.6 529.6 1979.5 530.0 1980.0Z" fill="#F3C27E"/>
<path d="M290.3 1527.4C291.9 1522.8 298.4 1515.2 303.9 1513.5C309.4 1511.9 316.0 1516.3 323.2 1517.4C330.5 1518.5 341.2 1518.9 347.4 1520.0C353.6 1521.1 354.4 1522.2 360.3 1523.9C366.2 1525.6 374.3 1527.7 382.9 1530.3C391.5 1532.9 402.0 1535.3 411.9 1539.4C421.9 1543.4 432.5 1547.9 442.6 1554.5C452.7 1561.1 462.2 1570.6 472.6 1579.0C483.0 1587.4 494.1 1595.2 504.8 1604.8C515.6 1614.5 527.4 1626.3 537.1 1637.1C546.8 1647.8 555.4 1658.6 562.9 1669.4C570.4 1680.1 576.3 1690.9 582.3 1701.6C588.2 1712.4 593.5 1723.1 598.4 1733.9C603.2 1744.6 607.5 1756.5 611.3 1766.1C615.1 1775.8 617.7 1782.8 621.0 1791.9C624.2 1801.1 628.5 1810.8 630.6 1821.0C632.8 1831.2 633.6 1842.5 633.9 1853.2C634.1 1864.0 633.3 1875.8 632.3 1885.5C631.2 1895.2 629.6 1903.2 627.4 1911.3C625.3 1919.4 622.6 1926.9 619.4 1933.9C616.1 1940.9 612.6 1947.3 608.1 1953.2C603.5 1959.1 598.4 1964.5 591.9 1969.4C585.5 1974.2 576.9 1979.6 569.4 1982.3C561.8 1984.9 553.8 1986.0 546.8 1985.5C539.8 1984.9 534.4 1982.3 527.4 1979.0C520.4 1975.8 511.8 1971.5 504.8 1966.1C497.8 1960.8 491.9 1954.3 485.5 1946.8C479.0 1939.2 472.6 1930.1 466.1 1921.0C459.7 1911.8 452.7 1901.6 446.8 1891.9C440.9 1882.3 435.5 1872.6 430.6 1862.9C425.8 1853.2 421.5 1843.5 417.7 1833.9C414.0 1824.2 410.4 1815.5 408.1 1804.8C405.8 1794.2 405.4 1778.8 403.9 1770.0C402.4 1761.2 401.2 1759.2 399.0 1752.3C396.9 1745.3 393.7 1736.1 391.0 1728.1C388.3 1720.0 385.1 1711.9 382.9 1703.9C380.8 1695.8 379.1 1687.7 378.1 1679.7C377.0 1671.6 377.3 1663.5 376.5 1655.5C375.6 1647.4 374.6 1638.0 373.2 1631.3C371.9 1624.6 370.5 1620.5 368.4 1615.2C366.2 1609.8 363.3 1604.4 360.3 1599.0C357.4 1593.7 354.1 1588.0 350.6 1582.9C347.2 1577.8 343.9 1573.0 339.4 1568.4C334.8 1563.8 328.6 1559.0 323.2 1555.5C317.8 1552.0 311.9 1549.8 307.1 1547.4C302.3 1545.0 297.0 1544.3 294.2 1541.0C291.4 1537.6 288.7 1532.0 290.3 1527.4Z" fill="url(#gBody)"/>
<g clip-path="url(#cBody)">
<path d="M290.3 1527.4C291.9 1522.8 298.4 1515.2 303.9 1513.5C309.4 1511.9 316.0 1516.3 323.2 1517.4C330.5 1518.5 341.2 1518.9 347.4 1520.0C353.6 1521.1 354.4 1522.2 360.3 1523.9C366.2 1525.6 374.3 1527.7 382.9 1530.3C391.5 1532.9 402.0 1535.3 411.9 1539.4C421.9 1543.4 432.5 1547.9 442.6 1554.5C452.7 1561.1 462.2 1570.6 472.6 1579.0C483.0 1587.4 494.1 1595.2 504.8 1604.8C515.6 1614.5 527.4 1626.3 537.1 1637.1C546.8 1647.8 555.4 1658.6 562.9 1669.4C570.4 1680.1 576.3 1690.9 582.3 1701.6C588.2 1712.4 593.5 1723.1 598.4 1733.9C603.2 1744.6 607.5 1756.5 611.3 1766.1C615.1 1775.8 617.7 1782.8 621.0 1791.9C624.2 1801.1 628.5 1810.8 630.6 1821.0C632.8 1831.2 633.6 1842.5 633.9 1853.2C634.1 1864.0 633.3 1875.8 632.3 1885.5C631.2 1895.2 629.6 1903.2 627.4 1911.3C625.3 1919.4 622.6 1926.9 619.4 1933.9C616.1 1940.9 612.6 1947.3 608.1 1953.2C603.5 1959.1 598.4 1964.5 591.9 1969.4C585.5 1974.2 576.9 1979.6 569.4 1982.3C561.8 1984.9 553.8 1986.0 546.8 1985.5C539.8 1984.9 534.4 1982.3 527.4 1979.0C520.4 1975.8 511.8 1971.5 504.8 1966.1C497.8 1960.8 491.9 1954.3 485.5 1946.8C479.0 1939.2 472.6 1930.1 466.1 1921.0C459.7 1911.8 452.7 1901.6 446.8 1891.9C440.9 1882.3 435.5 1872.6 430.6 1862.9C425.8 1853.2 421.5 1843.5 417.7 1833.9C414.0 1824.2 410.4 1815.5 408.1 1804.8C405.8 1794.2 405.4 1778.8 403.9 1770.0C402.4 1761.2 401.2 1759.2 399.0 1752.3C396.9 1745.3 393.7 1736.1 391.0 1728.1C388.3 1720.0 385.1 1711.9 382.9 1703.9C380.8 1695.8 379.1 1687.7 378.1 1679.7C377.0 1671.6 377.3 1663.5 376.5 1655.5C375.6 1647.4 374.6 1638.0 373.2 1631.3C371.9 1624.6 370.5 1620.5 368.4 1615.2C366.2 1609.8 363.3 1604.4 360.3 1599.0C357.4 1593.7 354.1 1588.0 350.6 1582.9C347.2 1577.8 343.9 1573.0 339.4 1568.4C334.8 1563.8 328.6 1559.0 323.2 1555.5C317.8 1552.0 311.9 1549.8 307.1 1547.4C302.3 1545.0 297.0 1544.3 294.2 1541.0C291.4 1537.6 288.7 1532.0 290.3 1527.4Z" fill="none" stroke="#C9400C" stroke-width="10" opacity="0.35"/>
<g fill="#C23A08" opacity="0.28"><ellipse cx="420" cy="1690" rx="30" ry="12" transform="rotate(20 420 1690)"/><ellipse cx="500" cy="1690" rx="40" ry="10" transform="rotate(-10 500 1690)"/><ellipse cx="560" cy="1740" rx="14" ry="40" transform="rotate(-25 560 1740)"/><ellipse cx="430" cy="1790" rx="22" ry="34" transform="rotate(-20 430 1790)"/><ellipse cx="460" cy="1585" rx="40" ry="14" transform="rotate(30 460 1585)"/><ellipse cx="330" cy="1535" rx="26" ry="9" transform="rotate(20 330 1535)"/></g>
<g fill="#F58A28" opacity="0.35"><ellipse cx="470" cy="1800" rx="40" ry="18" transform="rotate(-15 470 1800)"/><ellipse cx="395" cy="1650" rx="8" ry="30" transform="rotate(-8 395 1650)"/></g>
<path d="M342.6 1532.9C344.7 1530.3 355.8 1531.8 360.3 1530.5C364.9 1529.1 366.5 1524.7 370.0 1524.8C373.5 1525.0 378.9 1528.3 381.3 1531.3C383.7 1534.2 382.1 1539.1 384.5 1542.6C386.9 1546.1 391.2 1550.1 395.8 1552.3C400.4 1554.4 405.5 1554.8 411.9 1555.5C418.4 1556.2 434.0 1554.7 434.5 1556.3C435.1 1557.9 421.6 1561.3 415.2 1565.2C408.7 1569.1 400.6 1574.6 395.8 1579.7C391.0 1584.8 388.8 1589.9 386.1 1595.8C383.4 1601.7 381.6 1609.8 379.7 1615.2C377.8 1620.5 376.7 1628.1 374.8 1628.1C373.0 1628.1 370.5 1620.0 368.4 1615.2C366.2 1610.3 364.4 1604.9 361.9 1599.0C359.5 1593.1 356.3 1585.6 353.9 1579.7C351.5 1573.8 347.2 1567.6 347.4 1563.5C347.7 1559.5 355.5 1558.4 355.5 1555.5C355.5 1552.5 349.6 1549.6 347.4 1545.8C345.3 1542.0 340.4 1535.5 342.6 1532.9Z" fill="#FBF6D0"/>
<path d="M380.6 1625.8C384.1 1620.4 399.2 1618.0 408.1 1614.5C416.9 1611.0 426.3 1605.9 433.9 1604.8C441.4 1603.8 448.1 1604.8 453.2 1608.1C458.3 1611.3 461.8 1618.8 464.5 1624.2C467.2 1629.6 465.9 1636.6 469.4 1640.3C472.8 1644.1 480.6 1646.8 485.5 1646.8C490.3 1646.8 495.7 1644.1 498.4 1640.3C501.1 1636.6 498.9 1628.2 501.6 1624.2C504.3 1620.2 509.7 1615.1 514.5 1616.1C519.4 1617.2 524.7 1623.9 530.6 1630.6C536.6 1637.4 544.1 1647.8 550.0 1656.5C555.9 1665.1 566.7 1680.1 566.1 1682.3C565.6 1684.4 554.3 1673.1 546.8 1669.4C539.2 1665.6 529.0 1661.3 521.0 1659.7C512.9 1658.1 505.4 1657.5 498.4 1659.7C491.4 1661.8 484.4 1669.9 479.0 1672.6C473.7 1675.3 470.4 1677.4 466.1 1675.8C461.8 1674.2 458.6 1666.1 453.2 1662.9C447.8 1659.7 440.9 1656.7 433.9 1656.5C426.9 1656.2 417.7 1659.9 411.3 1661.3C404.8 1662.6 399.2 1666.9 395.2 1664.5C391.1 1662.1 389.5 1653.2 387.1 1646.8C384.7 1640.3 377.2 1631.2 380.6 1625.8Z" fill="#FBF5CF"/>
<path d="M503.2 1625.8C504.3 1621.2 509.9 1615.3 514.5 1616.1C519.1 1616.9 524.7 1623.9 530.6 1630.6C536.6 1637.4 544.1 1647.8 550.0 1656.5C555.9 1665.1 566.7 1680.1 566.1 1682.3C565.6 1684.4 554.3 1673.1 546.8 1669.4C539.2 1665.6 527.4 1664.0 521.0 1659.7C514.5 1655.4 511.0 1649.2 508.1 1643.5C505.1 1637.9 502.2 1630.4 503.2 1625.8Z" fill="#F7CDB8"/>
<path d="M446.8 1630.6C449.5 1630.1 455.4 1638.7 459.7 1643.5C464.0 1648.4 469.9 1654.8 472.6 1659.7C475.3 1664.5 476.9 1669.9 475.8 1672.6C474.7 1675.3 469.9 1677.4 466.1 1675.8C462.4 1674.2 457.0 1667.7 453.2 1662.9C449.5 1658.1 444.6 1652.2 443.5 1646.8C442.5 1641.4 444.1 1631.2 446.8 1630.6Z" fill="#E9D9A0" opacity="0.85"/>
<path d="M433.9 1717.7C438.2 1712.9 445.7 1707.5 453.2 1704.8C460.8 1702.2 470.4 1701.6 479.0 1701.6C487.6 1701.6 497.3 1703.2 504.8 1704.8C512.4 1706.5 518.8 1707.5 524.2 1711.3C529.6 1715.1 534.7 1721.0 537.1 1727.4C539.5 1733.9 539.2 1743.5 538.7 1750.0C538.2 1756.5 537.4 1762.4 533.9 1766.1C530.4 1769.9 523.1 1772.3 517.7 1772.6C512.4 1772.8 507.0 1769.9 501.6 1767.7C496.2 1765.6 491.4 1760.8 485.5 1759.7C479.6 1758.6 472.0 1762.4 466.1 1761.3C460.2 1760.2 454.8 1755.4 450.0 1753.2C445.2 1751.1 441.9 1748.1 437.1 1748.4C432.3 1748.7 425.8 1754.6 421.0 1754.8C416.1 1755.1 411.0 1752.4 408.1 1750.0C405.1 1747.6 402.7 1743.0 403.2 1740.3C403.8 1737.6 407.3 1734.9 411.3 1733.9C415.3 1732.8 423.7 1736.6 427.4 1733.9C431.2 1731.2 429.6 1722.6 433.9 1717.7Z" fill="#FBF6D2"/>
<ellipse cx="466" cy="1732" rx="14" ry="10" fill="#FFFFFF" opacity="0.9"/>
<circle cx="369.7" cy="1580.5" r="4.6" fill="#E8500F"/>
<path d="M436.0 1858.5C435.7 1850.0 441.8 1842.1 446.2 1836.0C450.7 1829.9 455.8 1825.1 462.6 1821.7C469.4 1818.3 478.6 1817.3 487.1 1815.6C495.6 1813.9 505.5 1813.9 513.6 1811.5C521.8 1809.1 529.0 1805.0 536.1 1801.3C543.3 1797.5 549.1 1792.9 556.5 1789.0C564.0 1785.1 572.9 1778.1 581.1 1777.8C589.2 1777.5 598.8 1782.0 605.6 1787.0C612.4 1791.9 617.8 1800.6 621.9 1807.4C626.0 1814.2 628.0 1820.0 630.1 1827.8C632.1 1835.7 633.8 1845.2 634.2 1854.4C634.5 1863.6 633.5 1874.2 632.1 1883.0C630.8 1891.9 628.7 1899.0 626.0 1907.5C623.3 1916.0 619.5 1925.9 615.8 1934.1C612.0 1942.2 608.6 1950.1 603.5 1956.5C598.4 1963.0 591.6 1968.5 585.1 1972.9C578.7 1977.3 571.5 1981.1 564.7 1983.1C557.9 1985.1 551.1 1985.8 544.3 1985.1C537.5 1984.5 530.0 1982.4 523.9 1979.0C517.7 1975.6 514.3 1970.8 507.5 1964.7C500.7 1958.6 491.2 1951.1 483.0 1942.2C474.8 1933.4 464.3 1920.8 458.5 1911.6C452.7 1902.4 452.0 1895.9 448.3 1887.1C444.5 1878.2 436.4 1867.0 436.0 1858.5Z" fill="url(#gHead)"/>
<path d="M578 1780C596 1778 612 1790 622 1812" stroke="#B5300A" stroke-width="5" fill="none" opacity="0.7"/>
<path d="M432 1822C438 1834 444 1846 446 1856" stroke="#8A2508" stroke-width="4" fill="none" opacity="0.8"/>
</g>
<ellipse cx="408" cy="1702" rx="7" ry="10.5" fill="#3A1E12" transform="rotate(10 408 1702)"/>
<ellipse cx="564" cy="1720" rx="6" ry="9.5" fill="#3A1A10" transform="rotate(-25 564 1720)"/>
<ellipse cx="562" cy="1782" rx="5" ry="2.5" fill="#5A1A0A" transform="rotate(-25 562 1782)"/>
<circle cx="598" cy="1944" r="2.4" fill="#4A1208"/><circle cx="544" cy="1977" r="2.6" fill="#4A1208"/>
<g transform="translate(600.5 1869) rotate(-22)"><ellipse rx="19.5" ry="28" fill="#5E6E75"/><ellipse cx="2.5" cy="1" rx="15.5" ry="24" fill="#141A1C"/><ellipse cx="-9.5" cy="-6" rx="3.6" ry="9.5" fill="#FFFFFF"/><ellipse cx="8" cy="14" rx="3" ry="4" fill="#E8F0F0" opacity="0.9"/></g>
<g transform="translate(484.5 1944.5) rotate(40)"><ellipse rx="24" ry="15.5" fill="#5E6E75"/><ellipse cx="0" cy="-2" rx="21" ry="12" fill="#141A1C"/><ellipse cx="-12" cy="-6.5" rx="7" ry="3.4" fill="#FFFFFF" transform="rotate(-8)"/><ellipse cx="14" cy="8" rx="6" ry="2.5" fill="#8FA0A8" opacity="0.9"/></g>
</g>
</g>
<path d="M0 0H2088 V2232 H0Z M23 20H2063V2206H23Z" fill="#fff" fill-rule="evenodd"/>
<rect x="22.95" y="19.85" width="2039.8" height="2186" fill="none" stroke="#000" stroke-width="7.8" stroke-linejoin="round"/>
</svg>
</body></html>
